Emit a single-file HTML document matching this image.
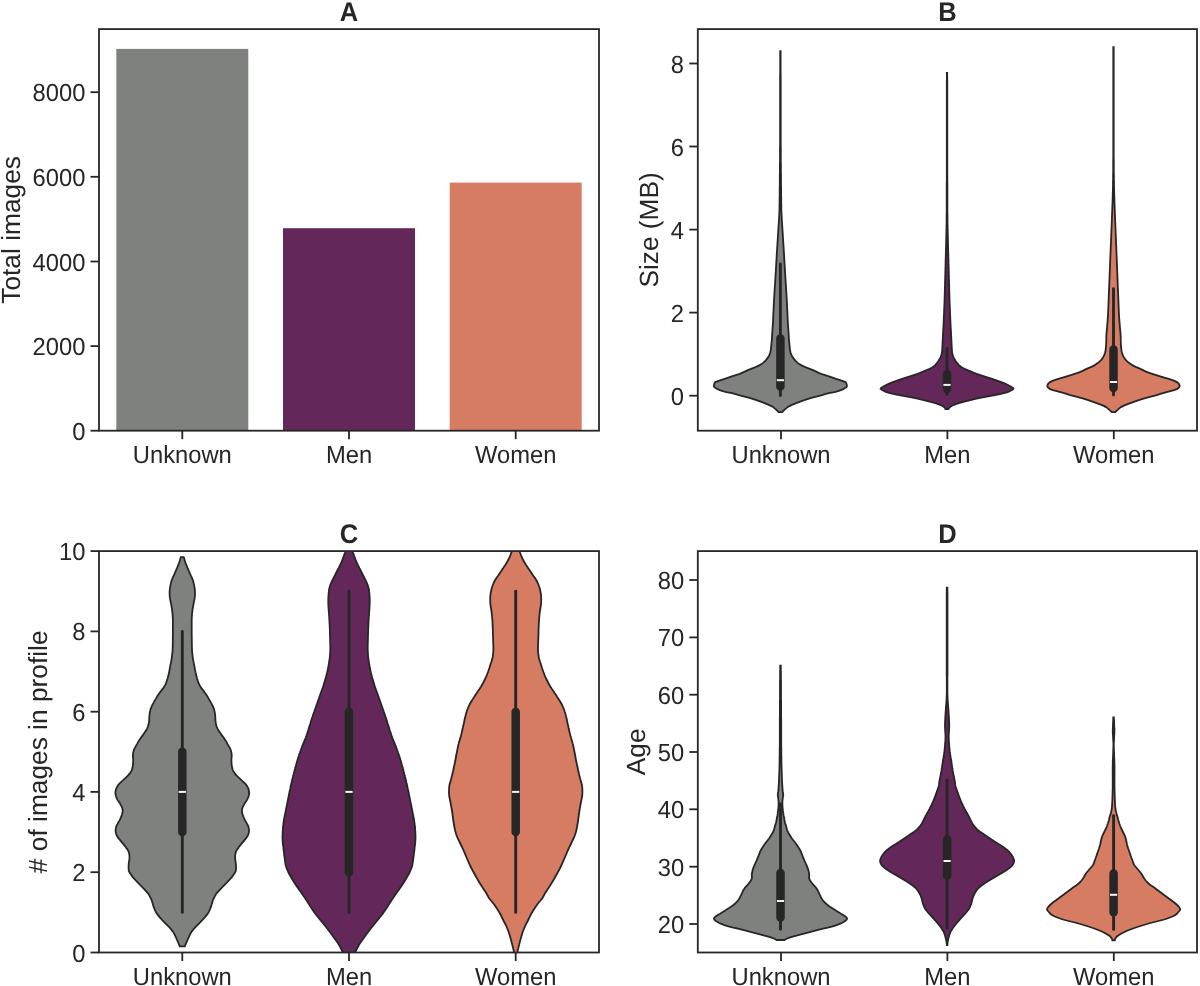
<!DOCTYPE html><html><head><meta charset="utf-8"><style>
html,body{margin:0;padding:0;background:#fff;}svg{display:block;will-change:transform;}
text{font-family:"Liberation Sans",sans-serif;fill:#262626;stroke:none;text-rendering:geometricPrecision;}
.tl{font-size:24px;}.al{font-size:26.3px;}.tt{font-size:26px;font-weight:bold;}
</style></head><body>
<svg width="1200" height="986" viewBox="0 0 1200 986">
<rect width="1200" height="986" fill="#ffffff"/>
<defs>
<clipPath id="ca"><rect x="99" y="29.1" width="500" height="401.6"/></clipPath>
<clipPath id="cb"><rect x="697.8" y="29.1" width="499.2" height="401.6"/></clipPath>
<clipPath id="cc"><rect x="99" y="551.1" width="500" height="401.4"/></clipPath>
<clipPath id="cd"><rect x="697.8" y="551.1" width="499.2" height="401.4"/></clipPath>
</defs>
<g clip-path="url(#ca)">
<rect x="116.3" y="48.9" width="132" height="381.8" fill="#7f817f"/>
<rect x="283" y="228.2" width="132" height="202.5" fill="#632859"/>
<rect x="449.7" y="182.6" width="132" height="248.1" fill="#d67c63"/>
</g>
<g clip-path="url(#cb)">
<path d="M780.2 51.1 L780.2 52.1 L780.2 53.1 L780.2 54.1 L780.2 55.1 L780.2 56.1 L780.2 57.1 L780.2 58.1 L780.2 59.1 L780.2 60.1 L780.2 61.1 L780.2 62.1 L780.2 63.1 L780.2 64.1 L780.2 65.1 L780.2 66.1 L780.2 67.1 L780.2 68.1 L780.2 69.1 L780.2 70.1 L780.2 71.1 L780.2 72.1 L780.2 73.1 L780.1 74.1 L780.1 75.1 L780.1 76.1 L780.1 77.1 L780.1 78.1 L780.1 79.1 L780.1 80.1 L780.1 81.1 L780.1 82.1 L780.1 83.1 L780.1 84.1 L780.1 85.1 L780.1 86.1 L780.1 87.1 L780.1 88.1 L780.1 89.1 L780.1 90.1 L780.1 91.1 L780.1 92.1 L780.1 93.1 L780.1 94.1 L780.1 95.1 L780.1 96.1 L780.1 97.1 L780.1 98.1 L780.1 99.1 L780.1 100.1 L780.1 101.1 L780.1 102.1 L780.1 103.1 L780.1 104.1 L780.1 105.1 L780.1 106.1 L780.1 107.1 L780.1 108.1 L780.1 109.1 L780.1 110.1 L780.1 111.1 L780.1 112.1 L780.1 113.1 L780.1 114.1 L780.1 115.1 L780.1 116.1 L780.1 117.1 L780.1 118.1 L780.1 119.1 L780.1 120.1 L780.1 121.1 L780.1 122.1 L780.1 123.1 L780.1 124.1 L780.1 125.1 L780.1 126.1 L780.1 127.1 L780.1 128.1 L780.1 129.1 L780.1 130.1 L780.1 131.1 L780.1 132.1 L780.1 133.1 L780.1 134.1 L780.1 135.1 L780.1 136.1 L780.1 137.1 L780.1 138.1 L780.1 139.1 L780.1 140.1 L780.1 141.1 L780.1 142.1 L780.1 143.1 L780.1 144.1 L780.1 145.1 L780 146.1 L780 147.1 L780 148.1 L780 149.1 L780 150.1 L780 151.1 L780 152.1 L780 153.1 L780 154.1 L780 155.1 L780 156.1 L780 157.1 L780 158.1 L780 159.1 L780 160.1 L780 161.1 L780 162.1 L779.9 163.1 L779.9 164.1 L779.9 165.1 L779.9 166.1 L779.9 167.1 L779.9 168.1 L779.9 169.1 L779.9 170.1 L779.9 171.1 L779.9 172.1 L779.9 173.1 L779.8 174.1 L779.8 175.1 L779.8 176.1 L779.8 177.1 L779.8 178.1 L779.8 179.1 L779.8 180.1 L779.8 181.1 L779.8 182.1 L779.8 183.1 L779.8 184.1 L779.8 185.1 L779.8 186.1 L779.7 187.1 L779.7 188.1 L779.7 189.1 L779.7 190.1 L779.7 191.1 L779.7 192.1 L779.7 193.1 L779.7 194.1 L779.7 195.1 L779.7 196.1 L779.6 197.1 L779.6 198.1 L779.6 199.1 L779.6 200.1 L779.6 201.1 L779.6 202.1 L779.6 203.1 L779.5 204.1 L779.5 205.1 L779.5 206.1 L779.5 207.1 L779.5 208.1 L779.5 209.1 L779.4 210.1 L779.4 211.1 L779.4 212.1 L779.3 213.1 L779.3 214.1 L779.2 215.1 L779.2 216.1 L779.1 217.1 L779.1 218.1 L779 219.1 L779 220.1 L778.9 221.1 L778.8 222.1 L778.8 223.1 L778.7 224.1 L778.6 225.1 L778.6 226.1 L778.5 227.1 L778.4 228.1 L778.4 229.1 L778.3 230.1 L778.2 231.1 L778.2 232.1 L778.1 233.1 L778 234.1 L778 235.1 L777.9 236.1 L777.9 237.1 L777.8 238.1 L777.7 239.1 L777.7 240.1 L777.6 241.1 L777.5 242.1 L777.5 243.1 L777.4 244.1 L777.4 245.1 L777.3 246.1 L777.2 247.1 L777.2 248.1 L777.1 249.1 L777 250.1 L777 251.1 L776.9 252.1 L776.8 253.1 L776.8 254.1 L776.7 255.1 L776.7 256.1 L776.6 257.1 L776.6 258.1 L776.5 259.1 L776.4 260.1 L776.4 261.1 L776.3 262.1 L776.3 263.1 L776.2 264.1 L776.2 265.1 L776.1 266.1 L776 267.1 L776 268.1 L775.9 269.1 L775.9 270.1 L775.8 271.1 L775.8 272.1 L775.7 273.1 L775.6 274.1 L775.6 275.1 L775.5 276.1 L775.5 277.1 L775.4 278.1 L775.3 279.1 L775.3 280.1 L775.2 281.1 L775.1 282.1 L775.1 283.1 L775 284.1 L774.9 285.1 L774.9 286.1 L774.8 287.1 L774.7 288.1 L774.7 289.1 L774.6 290.1 L774.6 291.1 L774.5 292.1 L774.4 293.1 L774.4 294.1 L774.3 295.1 L774.3 296.1 L774.2 297.1 L774.1 298.1 L774.1 299.1 L774 300.1 L774 301.1 L773.9 302.1 L773.9 303.1 L773.8 304.1 L773.8 305.1 L773.7 306.1 L773.7 307.1 L773.6 308.1 L773.6 309.1 L773.5 310.1 L773.5 311.1 L773.4 312.1 L773.4 313.1 L773.3 314.1 L773.3 315.1 L773.3 316.1 L773.2 317.1 L773.2 318.1 L773.1 319.1 L773.1 320.1 L773 321.1 L773 322.1 L772.9 323.1 L772.9 324.1 L772.8 325.1 L772.7 326.1 L772.7 327.1 L772.6 328.1 L772.5 329.1 L772.5 330.1 L772.4 331.1 L772.3 332.1 L772.2 333.1 L772.2 334.1 L772.1 335.1 L772 336.1 L772 337.1 L772 338.1 L771.9 339.1 L771.8 340.1 L771.7 341.1 L771.6 342.1 L771.5 343.1 L771.4 344.1 L771.3 345.1 L771.2 346.1 L771.1 347.1 L771 348.1 L770.9 349.1 L770.8 350.1 L770.6 351.1 L770.4 352.1 L770.1 353.1 L769.7 354.1 L769.3 355.1 L768.9 356.1 L768.2 357.1 L767.5 358.1 L766.7 359.1 L765.9 360.1 L765 361.1 L763.9 362.1 L762.8 363.1 L761.5 364.1 L759.7 365.1 L757.7 366.1 L755.5 367.1 L753 368.1 L750.4 369.1 L747.9 370.1 L745.7 371.1 L743.6 372.1 L741.5 373.1 L738.9 374.1 L735.7 375.1 L732.6 376.1 L729.7 377.1 L726.9 378.1 L723.9 379.1 L720.8 380.1 L717.9 381.1 L715.3 382.1 L714.5 383.1 L714.2 384.1 L714 385.1 L713.8 386.1 L714.4 387.1 L715.7 388.1 L717.6 389.1 L719.8 390.1 L722.8 391.1 L726.4 392.1 L732 393.1 L735.7 394.1 L738.8 395.1 L742.6 396.1 L746.6 397.1 L750.2 398.1 L753.4 399.1 L756.5 400.1 L759.3 401.1 L762 402.1 L764.6 403.1 L767 404.1 L769.4 405.1 L771.4 406.1 L773 407.1 L774.4 408.1 L775.6 409.1 L776.7 410.1 L777.7 411.1 L778.6 412.1 L782.2 412.1 L783.1 411.1 L784.1 410.1 L785.2 409.1 L786.4 408.1 L787.8 407.1 L789.4 406.1 L791.4 405.1 L793.8 404.1 L796.2 403.1 L798.8 402.1 L801.5 401.1 L804.3 400.1 L807.4 399.1 L810.6 398.1 L814.2 397.1 L818.2 396.1 L822 395.1 L825.1 394.1 L828.8 393.1 L834.4 392.1 L838 391.1 L841 390.1 L843.2 389.1 L845.1 388.1 L846.4 387.1 L847 386.1 L846.8 385.1 L846.6 384.1 L846.3 383.1 L845.5 382.1 L842.9 381.1 L840 380.1 L836.9 379.1 L833.9 378.1 L831.1 377.1 L828.2 376.1 L825.1 375.1 L821.9 374.1 L819.3 373.1 L817.2 372.1 L815.1 371.1 L812.9 370.1 L810.4 369.1 L807.8 368.1 L805.3 367.1 L803.1 366.1 L801.1 365.1 L799.3 364.1 L798 363.1 L796.9 362.1 L795.8 361.1 L794.9 360.1 L794.1 359.1 L793.3 358.1 L792.6 357.1 L791.9 356.1 L791.5 355.1 L791.1 354.1 L790.7 353.1 L790.4 352.1 L790.2 351.1 L790 350.1 L789.9 349.1 L789.8 348.1 L789.7 347.1 L789.6 346.1 L789.5 345.1 L789.4 344.1 L789.3 343.1 L789.2 342.1 L789.1 341.1 L789 340.1 L788.9 339.1 L788.8 338.1 L788.8 337.1 L788.8 336.1 L788.7 335.1 L788.6 334.1 L788.6 333.1 L788.5 332.1 L788.4 331.1 L788.3 330.1 L788.3 329.1 L788.2 328.1 L788.1 327.1 L788.1 326.1 L788 325.1 L787.9 324.1 L787.9 323.1 L787.8 322.1 L787.8 321.1 L787.7 320.1 L787.7 319.1 L787.6 318.1 L787.6 317.1 L787.5 316.1 L787.5 315.1 L787.5 314.1 L787.4 313.1 L787.4 312.1 L787.3 311.1 L787.3 310.1 L787.2 309.1 L787.2 308.1 L787.1 307.1 L787.1 306.1 L787 305.1 L787 304.1 L786.9 303.1 L786.9 302.1 L786.8 301.1 L786.8 300.1 L786.7 299.1 L786.7 298.1 L786.6 297.1 L786.5 296.1 L786.5 295.1 L786.4 294.1 L786.4 293.1 L786.3 292.1 L786.2 291.1 L786.2 290.1 L786.1 289.1 L786.1 288.1 L786 287.1 L785.9 286.1 L785.9 285.1 L785.8 284.1 L785.7 283.1 L785.7 282.1 L785.6 281.1 L785.5 280.1 L785.5 279.1 L785.4 278.1 L785.3 277.1 L785.3 276.1 L785.2 275.1 L785.2 274.1 L785.1 273.1 L785 272.1 L785 271.1 L784.9 270.1 L784.9 269.1 L784.8 268.1 L784.8 267.1 L784.7 266.1 L784.6 265.1 L784.6 264.1 L784.5 263.1 L784.5 262.1 L784.4 261.1 L784.4 260.1 L784.3 259.1 L784.2 258.1 L784.2 257.1 L784.1 256.1 L784.1 255.1 L784 254.1 L784 253.1 L783.9 252.1 L783.8 251.1 L783.8 250.1 L783.7 249.1 L783.6 248.1 L783.6 247.1 L783.5 246.1 L783.4 245.1 L783.4 244.1 L783.3 243.1 L783.3 242.1 L783.2 241.1 L783.1 240.1 L783.1 239.1 L783 238.1 L782.9 237.1 L782.9 236.1 L782.8 235.1 L782.8 234.1 L782.7 233.1 L782.6 232.1 L782.6 231.1 L782.5 230.1 L782.4 229.1 L782.4 228.1 L782.3 227.1 L782.2 226.1 L782.2 225.1 L782.1 224.1 L782 223.1 L782 222.1 L781.9 221.1 L781.8 220.1 L781.8 219.1 L781.7 218.1 L781.7 217.1 L781.6 216.1 L781.6 215.1 L781.5 214.1 L781.5 213.1 L781.4 212.1 L781.4 211.1 L781.4 210.1 L781.3 209.1 L781.3 208.1 L781.3 207.1 L781.3 206.1 L781.3 205.1 L781.3 204.1 L781.2 203.1 L781.2 202.1 L781.2 201.1 L781.2 200.1 L781.2 199.1 L781.2 198.1 L781.2 197.1 L781.1 196.1 L781.1 195.1 L781.1 194.1 L781.1 193.1 L781.1 192.1 L781.1 191.1 L781.1 190.1 L781.1 189.1 L781.1 188.1 L781.1 187.1 L781 186.1 L781 185.1 L781 184.1 L781 183.1 L781 182.1 L781 181.1 L781 180.1 L781 179.1 L781 178.1 L781 177.1 L781 176.1 L781 175.1 L781 174.1 L780.9 173.1 L780.9 172.1 L780.9 171.1 L780.9 170.1 L780.9 169.1 L780.9 168.1 L780.9 167.1 L780.9 166.1 L780.9 165.1 L780.9 164.1 L780.9 163.1 L780.8 162.1 L780.8 161.1 L780.8 160.1 L780.8 159.1 L780.8 158.1 L780.8 157.1 L780.8 156.1 L780.8 155.1 L780.8 154.1 L780.8 153.1 L780.8 152.1 L780.8 151.1 L780.8 150.1 L780.8 149.1 L780.8 148.1 L780.8 147.1 L780.8 146.1 L780.7 145.1 L780.7 144.1 L780.7 143.1 L780.7 142.1 L780.7 141.1 L780.7 140.1 L780.7 139.1 L780.7 138.1 L780.7 137.1 L780.7 136.1 L780.7 135.1 L780.7 134.1 L780.7 133.1 L780.7 132.1 L780.7 131.1 L780.7 130.1 L780.7 129.1 L780.7 128.1 L780.7 127.1 L780.7 126.1 L780.7 125.1 L780.7 124.1 L780.7 123.1 L780.7 122.1 L780.7 121.1 L780.7 120.1 L780.7 119.1 L780.7 118.1 L780.7 117.1 L780.7 116.1 L780.7 115.1 L780.7 114.1 L780.7 113.1 L780.7 112.1 L780.7 111.1 L780.7 110.1 L780.7 109.1 L780.7 108.1 L780.7 107.1 L780.7 106.1 L780.7 105.1 L780.7 104.1 L780.7 103.1 L780.7 102.1 L780.7 101.1 L780.7 100.1 L780.7 99.1 L780.7 98.1 L780.7 97.1 L780.7 96.1 L780.7 95.1 L780.7 94.1 L780.7 93.1 L780.7 92.1 L780.7 91.1 L780.7 90.1 L780.7 89.1 L780.7 88.1 L780.7 87.1 L780.7 86.1 L780.7 85.1 L780.7 84.1 L780.7 83.1 L780.7 82.1 L780.7 81.1 L780.7 80.1 L780.7 79.1 L780.7 78.1 L780.7 77.1 L780.7 76.1 L780.7 75.1 L780.7 74.1 L780.6 73.1 L780.6 72.1 L780.6 71.1 L780.6 70.1 L780.6 69.1 L780.6 68.1 L780.6 67.1 L780.6 66.1 L780.6 65.1 L780.6 64.1 L780.6 63.1 L780.6 62.1 L780.6 61.1 L780.6 60.1 L780.6 59.1 L780.6 58.1 L780.6 57.1 L780.6 56.1 L780.6 55.1 L780.6 54.1 L780.6 53.1 L780.6 52.1 L780.6 51.1 Z" fill="#7f817f" stroke="#262626" stroke-width="1.8" stroke-linejoin="miter" stroke-miterlimit="4"/>
<path d="M946.8 72.8 L946.9 73.8 L946.9 74.8 L946.9 75.8 L946.9 76.8 L946.9 77.8 L946.9 78.8 L946.9 79.8 L946.8 80.8 L946.8 81.8 L946.8 82.8 L946.8 83.8 L946.8 84.8 L946.8 85.8 L946.8 86.8 L946.8 87.8 L946.8 88.8 L946.8 89.8 L946.8 90.8 L946.8 91.8 L946.8 92.8 L946.8 93.8 L946.8 94.8 L946.8 95.8 L946.8 96.8 L946.8 97.8 L946.8 98.8 L946.8 99.8 L946.8 100.8 L946.8 101.8 L946.8 102.8 L946.8 103.8 L946.8 104.8 L946.8 105.8 L946.8 106.8 L946.8 107.8 L946.8 108.8 L946.8 109.8 L946.8 110.8 L946.8 111.8 L946.8 112.8 L946.8 113.8 L946.8 114.8 L946.8 115.8 L946.8 116.8 L946.8 117.8 L946.8 118.8 L946.8 119.8 L946.8 120.8 L946.8 121.8 L946.8 122.8 L946.8 123.8 L946.8 124.8 L946.8 125.8 L946.8 126.8 L946.8 127.8 L946.8 128.8 L946.8 129.8 L946.8 130.8 L946.8 131.8 L946.8 132.8 L946.8 133.8 L946.8 134.8 L946.8 135.8 L946.8 136.8 L946.8 137.8 L946.8 138.8 L946.8 139.8 L946.8 140.8 L946.8 141.8 L946.8 142.8 L946.8 143.8 L946.8 144.8 L946.8 145.8 L946.8 146.8 L946.8 147.8 L946.8 148.8 L946.8 149.8 L946.8 150.8 L946.8 151.8 L946.8 152.8 L946.8 153.8 L946.8 154.8 L946.8 155.8 L946.8 156.8 L946.8 157.8 L946.8 158.8 L946.8 159.8 L946.8 160.8 L946.8 161.8 L946.8 162.8 L946.8 163.8 L946.8 164.8 L946.8 165.8 L946.8 166.8 L946.8 167.8 L946.8 168.8 L946.8 169.8 L946.8 170.8 L946.8 171.8 L946.8 172.8 L946.8 173.8 L946.8 174.8 L946.8 175.8 L946.8 176.8 L946.8 177.8 L946.8 178.8 L946.8 179.8 L946.8 180.8 L946.8 181.8 L946.7 182.8 L946.7 183.8 L946.7 184.8 L946.7 185.8 L946.7 186.8 L946.7 187.8 L946.7 188.8 L946.7 189.8 L946.7 190.8 L946.7 191.8 L946.7 192.8 L946.7 193.8 L946.7 194.8 L946.7 195.8 L946.7 196.8 L946.7 197.8 L946.7 198.8 L946.7 199.8 L946.7 200.8 L946.7 201.8 L946.7 202.8 L946.7 203.8 L946.7 204.8 L946.7 205.8 L946.7 206.8 L946.7 207.8 L946.7 208.8 L946.7 209.8 L946.7 210.8 L946.7 211.8 L946.7 212.8 L946.7 213.8 L946.6 214.8 L946.6 215.8 L946.6 216.8 L946.6 217.8 L946.6 218.8 L946.6 219.8 L946.6 220.8 L946.6 221.8 L946.6 222.8 L946.6 223.8 L946.5 224.8 L946.5 225.8 L946.5 226.8 L946.5 227.8 L946.5 228.8 L946.4 229.8 L946.4 230.8 L946.4 231.8 L946.4 232.8 L946.3 233.8 L946.3 234.8 L946.3 235.8 L946.3 236.8 L946.2 237.8 L946.2 238.8 L946.2 239.8 L946.2 240.8 L946.2 241.8 L946.1 242.8 L946.1 243.8 L946.1 244.8 L946.1 245.8 L946 246.8 L946 247.8 L946 248.8 L946 249.8 L945.9 250.8 L945.9 251.8 L945.9 252.8 L945.8 253.8 L945.8 254.8 L945.8 255.8 L945.8 256.8 L945.7 257.8 L945.7 258.8 L945.7 259.8 L945.6 260.8 L945.6 261.8 L945.6 262.8 L945.6 263.8 L945.5 264.8 L945.5 265.8 L945.5 266.8 L945.4 267.8 L945.4 268.8 L945.4 269.8 L945.4 270.8 L945.3 271.8 L945.3 272.8 L945.3 273.8 L945.3 274.8 L945.2 275.8 L945.2 276.8 L945.2 277.8 L945.2 278.8 L945.1 279.8 L945.1 280.8 L945.1 281.8 L945 282.8 L945 283.8 L945 284.8 L945 285.8 L944.9 286.8 L944.9 287.8 L944.9 288.8 L944.9 289.8 L944.8 290.8 L944.8 291.8 L944.8 292.8 L944.7 293.8 L944.7 294.8 L944.7 295.8 L944.7 296.8 L944.6 297.8 L944.6 298.8 L944.6 299.8 L944.5 300.8 L944.5 301.8 L944.5 302.8 L944.4 303.8 L944.4 304.8 L944.3 305.8 L944.3 306.8 L944.3 307.8 L944.2 308.8 L944.2 309.8 L944.1 310.8 L944.1 311.8 L944.1 312.8 L944 313.8 L944 314.8 L943.9 315.8 L943.9 316.8 L943.8 317.8 L943.8 318.8 L943.8 319.8 L943.7 320.8 L943.7 321.8 L943.6 322.8 L943.6 323.8 L943.5 324.8 L943.5 325.8 L943.4 326.8 L943.4 327.8 L943.3 328.8 L943.2 329.8 L943.2 330.8 L943.1 331.8 L943.1 332.8 L943 333.8 L943 334.8 L942.9 335.8 L942.9 336.8 L942.8 337.8 L942.8 338.8 L942.7 339.8 L942.7 340.8 L942.6 341.8 L942.6 342.8 L942.5 343.8 L942.5 344.8 L942.4 345.8 L942.4 346.8 L942.3 347.8 L942.3 348.8 L942.2 349.8 L942.2 350.8 L942.1 351.8 L941.9 352.8 L941.7 353.8 L941.4 354.8 L941.1 355.8 L940.7 356.8 L940.3 357.8 L939.8 358.8 L939.2 359.8 L938.6 360.8 L937.9 361.8 L937.1 362.8 L936.2 363.8 L935.4 364.8 L934.5 365.8 L933.2 366.8 L931.6 367.8 L929.6 368.8 L927.2 369.8 L924.9 370.8 L922.5 371.8 L920.1 372.8 L917.5 373.8 L914.5 374.8 L911.5 375.8 L908.4 376.8 L905.2 377.8 L902.1 378.8 L899.2 379.8 L896.4 380.8 L893.6 381.8 L891 382.8 L888.7 383.8 L886.6 384.8 L884.8 385.8 L883 386.8 L881.1 387.8 L880.6 388.8 L881.8 389.8 L883.5 390.8 L885.9 391.8 L889.2 392.8 L893.1 393.8 L898 394.8 L903.4 395.8 L908.8 396.8 L914.1 397.8 L918.7 398.8 L922.8 399.8 L926.7 400.8 L930.8 401.8 L934.4 402.8 L937.5 403.8 L940.1 404.8 L942.1 405.8 L943.7 406.8 L944.8 407.8 L945.5 408.8 L945.5 409 L948.5 409 L948.6 408.8 L949.2 407.8 L950.4 406.8 L952 405.8 L954 404.8 L956.6 403.8 L959.7 402.8 L963.3 401.8 L967.4 400.8 L971.3 399.8 L975.4 398.8 L980 397.8 L985.3 396.8 L990.7 395.8 L996.1 394.8 L1001 393.8 L1004.9 392.8 L1008.2 391.8 L1010.6 390.8 L1012.3 389.8 L1013.5 388.8 L1013 387.8 L1011.1 386.8 L1009.3 385.8 L1007.5 384.8 L1005.4 383.8 L1003.1 382.8 L1000.5 381.8 L997.7 380.8 L994.9 379.8 L992 378.8 L988.9 377.8 L985.7 376.8 L982.6 375.8 L979.6 374.8 L976.6 373.8 L974 372.8 L971.6 371.8 L969.2 370.8 L966.9 369.8 L964.5 368.8 L962.5 367.8 L960.9 366.8 L959.6 365.8 L958.7 364.8 L957.9 363.8 L957 362.8 L956.2 361.8 L955.5 360.8 L954.9 359.8 L954.3 358.8 L953.8 357.8 L953.4 356.8 L953 355.8 L952.7 354.8 L952.4 353.8 L952.2 352.8 L952 351.8 L951.9 350.8 L951.9 349.8 L951.8 348.8 L951.8 347.8 L951.7 346.8 L951.7 345.8 L951.6 344.8 L951.6 343.8 L951.5 342.8 L951.5 341.8 L951.4 340.8 L951.4 339.8 L951.3 338.8 L951.3 337.8 L951.2 336.8 L951.2 335.8 L951.1 334.8 L951.1 333.8 L951 332.8 L951 331.8 L950.9 330.8 L950.9 329.8 L950.8 328.8 L950.7 327.8 L950.7 326.8 L950.6 325.8 L950.6 324.8 L950.5 323.8 L950.5 322.8 L950.4 321.8 L950.4 320.8 L950.3 319.8 L950.3 318.8 L950.3 317.8 L950.2 316.8 L950.2 315.8 L950.1 314.8 L950.1 313.8 L950 312.8 L950 311.8 L950 310.8 L949.9 309.8 L949.9 308.8 L949.8 307.8 L949.8 306.8 L949.8 305.8 L949.7 304.8 L949.7 303.8 L949.6 302.8 L949.6 301.8 L949.6 300.8 L949.5 299.8 L949.5 298.8 L949.5 297.8 L949.4 296.8 L949.4 295.8 L949.4 294.8 L949.4 293.8 L949.3 292.8 L949.3 291.8 L949.3 290.8 L949.2 289.8 L949.2 288.8 L949.2 287.8 L949.2 286.8 L949.1 285.8 L949.1 284.8 L949.1 283.8 L949.1 282.8 L949 281.8 L949 280.8 L949 279.8 L948.9 278.8 L948.9 277.8 L948.9 276.8 L948.9 275.8 L948.8 274.8 L948.8 273.8 L948.8 272.8 L948.8 271.8 L948.7 270.8 L948.7 269.8 L948.7 268.8 L948.7 267.8 L948.6 266.8 L948.6 265.8 L948.6 264.8 L948.5 263.8 L948.5 262.8 L948.5 261.8 L948.5 260.8 L948.4 259.8 L948.4 258.8 L948.4 257.8 L948.3 256.8 L948.3 255.8 L948.3 254.8 L948.3 253.8 L948.2 252.8 L948.2 251.8 L948.2 250.8 L948.1 249.8 L948.1 248.8 L948.1 247.8 L948.1 246.8 L948 245.8 L948 244.8 L948 243.8 L948 242.8 L947.9 241.8 L947.9 240.8 L947.9 239.8 L947.9 238.8 L947.9 237.8 L947.8 236.8 L947.8 235.8 L947.8 234.8 L947.8 233.8 L947.7 232.8 L947.7 231.8 L947.7 230.8 L947.7 229.8 L947.6 228.8 L947.6 227.8 L947.6 226.8 L947.6 225.8 L947.6 224.8 L947.5 223.8 L947.5 222.8 L947.5 221.8 L947.5 220.8 L947.5 219.8 L947.5 218.8 L947.5 217.8 L947.5 216.8 L947.5 215.8 L947.5 214.8 L947.4 213.8 L947.4 212.8 L947.4 211.8 L947.4 210.8 L947.4 209.8 L947.4 208.8 L947.4 207.8 L947.4 206.8 L947.4 205.8 L947.4 204.8 L947.4 203.8 L947.4 202.8 L947.4 201.8 L947.4 200.8 L947.4 199.8 L947.4 198.8 L947.4 197.8 L947.4 196.8 L947.4 195.8 L947.4 194.8 L947.4 193.8 L947.4 192.8 L947.4 191.8 L947.4 190.8 L947.4 189.8 L947.4 188.8 L947.4 187.8 L947.4 186.8 L947.4 185.8 L947.4 184.8 L947.4 183.8 L947.4 182.8 L947.3 181.8 L947.3 180.8 L947.3 179.8 L947.3 178.8 L947.3 177.8 L947.3 176.8 L947.3 175.8 L947.3 174.8 L947.3 173.8 L947.3 172.8 L947.3 171.8 L947.3 170.8 L947.3 169.8 L947.3 168.8 L947.3 167.8 L947.3 166.8 L947.3 165.8 L947.3 164.8 L947.3 163.8 L947.3 162.8 L947.3 161.8 L947.3 160.8 L947.3 159.8 L947.3 158.8 L947.3 157.8 L947.3 156.8 L947.3 155.8 L947.3 154.8 L947.3 153.8 L947.3 152.8 L947.3 151.8 L947.3 150.8 L947.3 149.8 L947.3 148.8 L947.3 147.8 L947.3 146.8 L947.3 145.8 L947.3 144.8 L947.3 143.8 L947.3 142.8 L947.3 141.8 L947.3 140.8 L947.3 139.8 L947.3 138.8 L947.3 137.8 L947.3 136.8 L947.3 135.8 L947.3 134.8 L947.3 133.8 L947.3 132.8 L947.3 131.8 L947.3 130.8 L947.3 129.8 L947.3 128.8 L947.3 127.8 L947.3 126.8 L947.3 125.8 L947.3 124.8 L947.3 123.8 L947.3 122.8 L947.3 121.8 L947.3 120.8 L947.3 119.8 L947.3 118.8 L947.3 117.8 L947.3 116.8 L947.3 115.8 L947.3 114.8 L947.3 113.8 L947.3 112.8 L947.3 111.8 L947.3 110.8 L947.3 109.8 L947.3 108.8 L947.3 107.8 L947.3 106.8 L947.3 105.8 L947.3 104.8 L947.3 103.8 L947.3 102.8 L947.3 101.8 L947.3 100.8 L947.3 99.8 L947.3 98.8 L947.3 97.8 L947.3 96.8 L947.3 95.8 L947.3 94.8 L947.3 93.8 L947.3 92.8 L947.3 91.8 L947.3 90.8 L947.3 89.8 L947.3 88.8 L947.3 87.8 L947.3 86.8 L947.3 85.8 L947.3 84.8 L947.3 83.8 L947.3 82.8 L947.3 81.8 L947.3 80.8 L947.2 79.8 L947.2 78.8 L947.2 77.8 L947.2 76.8 L947.2 75.8 L947.2 74.8 L947.2 73.8 L947.2 72.8 Z" fill="#632859" stroke="#262626" stroke-width="1.8" stroke-linejoin="miter" stroke-miterlimit="4"/>
<path d="M1113.3 47.1 L1113.3 48.1 L1113.3 49.1 L1113.3 50.1 L1113.3 51.1 L1113.3 52.1 L1113.3 53.1 L1113.3 54.1 L1113.3 55.1 L1113.3 56.1 L1113.3 57.1 L1113.3 58.1 L1113.3 59.1 L1113.3 60.1 L1113.3 61.1 L1113.3 62.1 L1113.3 63.1 L1113.3 64.1 L1113.3 65.1 L1113.3 66.1 L1113.3 67.1 L1113.3 68.1 L1113.3 69.1 L1113.3 70.1 L1113.3 71.1 L1113.3 72.1 L1113.3 73.1 L1113.3 74.1 L1113.3 75.1 L1113.3 76.1 L1113.3 77.1 L1113.3 78.1 L1113.3 79.1 L1113.3 80.1 L1113.3 81.1 L1113.3 82.1 L1113.3 83.1 L1113.3 84.1 L1113.3 85.1 L1113.3 86.1 L1113.3 87.1 L1113.3 88.1 L1113.3 89.1 L1113.3 90.1 L1113.3 91.1 L1113.3 92.1 L1113.3 93.1 L1113.3 94.1 L1113.3 95.1 L1113.3 96.1 L1113.3 97.1 L1113.3 98.1 L1113.3 99.1 L1113.3 100.1 L1113.3 101.1 L1113.3 102.1 L1113.3 103.1 L1113.3 104.1 L1113.3 105.1 L1113.3 106.1 L1113.3 107.1 L1113.3 108.1 L1113.3 109.1 L1113.3 110.1 L1113.3 111.1 L1113.3 112.1 L1113.3 113.1 L1113.3 114.1 L1113.3 115.1 L1113.3 116.1 L1113.3 117.1 L1113.3 118.1 L1113.3 119.1 L1113.3 120.1 L1113.3 121.1 L1113.3 122.1 L1113.3 123.1 L1113.3 124.1 L1113.3 125.1 L1113.3 126.1 L1113.3 127.1 L1113.3 128.1 L1113.3 129.1 L1113.3 130.1 L1113.3 131.1 L1113.3 132.1 L1113.3 133.1 L1113.3 134.1 L1113.3 135.1 L1113.3 136.1 L1113.3 137.1 L1113.3 138.1 L1113.3 139.1 L1113.3 140.1 L1113.3 141.1 L1113.3 142.1 L1113.3 143.1 L1113.3 144.1 L1113.3 145.1 L1113.3 146.1 L1113.3 147.1 L1113.3 148.1 L1113.3 149.1 L1113.3 150.1 L1113.3 151.1 L1113.3 152.1 L1113.3 153.1 L1113.3 154.1 L1113.3 155.1 L1113.3 156.1 L1113.3 157.1 L1113.3 158.1 L1113.3 159.1 L1113.2 160.1 L1113.2 161.1 L1113.2 162.1 L1113.2 163.1 L1113.2 164.1 L1113.2 165.1 L1113.2 166.1 L1113.2 167.1 L1113.2 168.1 L1113.2 169.1 L1113.2 170.1 L1113.2 171.1 L1113.2 172.1 L1113.2 173.1 L1113.1 174.1 L1113.1 175.1 L1113.1 176.1 L1113.1 177.1 L1113.1 178.1 L1113.1 179.1 L1113.1 180.1 L1113 181.1 L1113 182.1 L1113 183.1 L1113 184.1 L1113 185.1 L1113 186.1 L1113 187.1 L1112.9 188.1 L1112.9 189.1 L1112.9 190.1 L1112.9 191.1 L1112.8 192.1 L1112.8 193.1 L1112.8 194.1 L1112.8 195.1 L1112.7 196.1 L1112.7 197.1 L1112.7 198.1 L1112.6 199.1 L1112.6 200.1 L1112.6 201.1 L1112.5 202.1 L1112.5 203.1 L1112.5 204.1 L1112.4 205.1 L1112.4 206.1 L1112.3 207.1 L1112.3 208.1 L1112.3 209.1 L1112.2 210.1 L1112.2 211.1 L1112.2 212.1 L1112.1 213.1 L1112.1 214.1 L1112 215.1 L1112 216.1 L1112 217.1 L1111.9 218.1 L1111.9 219.1 L1111.9 220.1 L1111.8 221.1 L1111.8 222.1 L1111.7 223.1 L1111.7 224.1 L1111.7 225.1 L1111.6 226.1 L1111.6 227.1 L1111.5 228.1 L1111.5 229.1 L1111.4 230.1 L1111.4 231.1 L1111.4 232.1 L1111.3 233.1 L1111.3 234.1 L1111.2 235.1 L1111.2 236.1 L1111.2 237.1 L1111.1 238.1 L1111.1 239.1 L1111 240.1 L1111 241.1 L1111 242.1 L1110.9 243.1 L1110.9 244.1 L1110.8 245.1 L1110.8 246.1 L1110.7 247.1 L1110.7 248.1 L1110.7 249.1 L1110.6 250.1 L1110.6 251.1 L1110.5 252.1 L1110.5 253.1 L1110.5 254.1 L1110.4 255.1 L1110.4 256.1 L1110.3 257.1 L1110.3 258.1 L1110.3 259.1 L1110.2 260.1 L1110.2 261.1 L1110.1 262.1 L1110.1 263.1 L1110.1 264.1 L1110 265.1 L1110 266.1 L1109.9 267.1 L1109.9 268.1 L1109.9 269.1 L1109.8 270.1 L1109.8 271.1 L1109.8 272.1 L1109.7 273.1 L1109.7 274.1 L1109.6 275.1 L1109.6 276.1 L1109.6 277.1 L1109.5 278.1 L1109.5 279.1 L1109.4 280.1 L1109.4 281.1 L1109.4 282.1 L1109.3 283.1 L1109.3 284.1 L1109.2 285.1 L1109.2 286.1 L1109.2 287.1 L1109.1 288.1 L1109.1 289.1 L1109 290.1 L1109 291.1 L1108.9 292.1 L1108.9 293.1 L1108.9 294.1 L1108.8 295.1 L1108.8 296.1 L1108.7 297.1 L1108.7 298.1 L1108.7 299.1 L1108.6 300.1 L1108.6 301.1 L1108.5 302.1 L1108.5 303.1 L1108.5 304.1 L1108.4 305.1 L1108.4 306.1 L1108.4 307.1 L1108.3 308.1 L1108.3 309.1 L1108.2 310.1 L1108.2 311.1 L1108.1 312.1 L1108.1 313.1 L1108.1 314.1 L1108 315.1 L1107.9 316.1 L1107.9 317.1 L1107.8 318.1 L1107.7 319.1 L1107.7 320.1 L1107.6 321.1 L1107.5 322.1 L1107.4 323.1 L1107.3 324.1 L1107.2 325.1 L1107.2 326.1 L1107.1 327.1 L1107 328.1 L1106.9 329.1 L1106.8 330.1 L1106.7 331.1 L1106.6 332.1 L1106.5 333.1 L1106.5 334.1 L1106.4 335.1 L1106.3 336.1 L1106.3 337.1 L1106.3 338.1 L1106.3 339.1 L1106.3 340.1 L1106.3 341.1 L1106.2 342.1 L1106.2 343.1 L1106.2 344.1 L1106.1 345.1 L1106 346.1 L1105.9 347.1 L1105.8 348.1 L1105.7 349.1 L1105.6 350.1 L1105.5 351.1 L1105.2 352.1 L1104.9 353.1 L1104.5 354.1 L1104.2 355.1 L1103.7 356.1 L1103.2 357.1 L1102.6 358.1 L1101.9 359.1 L1101 360.1 L1100 361.1 L1098.9 362.1 L1097.7 363.1 L1096.3 364.1 L1094.7 365.1 L1092.9 366.1 L1090.7 367.1 L1088.3 368.1 L1086.1 369.1 L1084.1 370.1 L1082.1 371.1 L1079.7 372.1 L1077 373.1 L1074 374.1 L1070.8 375.1 L1067.6 376.1 L1064.3 377.1 L1060.9 378.1 L1057.5 379.1 L1054.5 380.1 L1052 381.1 L1050 382.1 L1048.8 383.1 L1048 384.1 L1047.5 385.1 L1047.3 386.1 L1047.7 387.1 L1048.6 388.1 L1050.1 389.1 L1053 390.1 L1056.7 391.1 L1060.4 392.1 L1064.1 393.1 L1067.3 394.1 L1070.3 395.1 L1074.1 396.1 L1078.1 397.1 L1081.8 398.1 L1085.1 399.1 L1088.2 400.1 L1091.1 401.1 L1093.9 402.1 L1096.6 403.1 L1099.4 404.1 L1102 405.1 L1104.3 406.1 L1106 407.1 L1107.4 408.1 L1108.6 409.1 L1109.7 410.1 L1110.8 411.1 L1111.7 412.1 L1115.3 412.1 L1116.2 411.1 L1117.3 410.1 L1118.4 409.1 L1119.6 408.1 L1121 407.1 L1122.7 406.1 L1125 405.1 L1127.6 404.1 L1130.4 403.1 L1133.1 402.1 L1135.9 401.1 L1138.8 400.1 L1141.9 399.1 L1145.2 398.1 L1148.9 397.1 L1152.9 396.1 L1156.7 395.1 L1159.7 394.1 L1162.9 393.1 L1166.6 392.1 L1170.3 391.1 L1174 390.1 L1176.9 389.1 L1178.4 388.1 L1179.3 387.1 L1179.7 386.1 L1179.5 385.1 L1179 384.1 L1178.2 383.1 L1177 382.1 L1175 381.1 L1172.5 380.1 L1169.5 379.1 L1166.1 378.1 L1162.7 377.1 L1159.4 376.1 L1156.2 375.1 L1153 374.1 L1150 373.1 L1147.3 372.1 L1144.9 371.1 L1142.9 370.1 L1140.9 369.1 L1138.7 368.1 L1136.3 367.1 L1134.1 366.1 L1132.3 365.1 L1130.7 364.1 L1129.3 363.1 L1128.1 362.1 L1127 361.1 L1126 360.1 L1125.1 359.1 L1124.4 358.1 L1123.8 357.1 L1123.3 356.1 L1122.8 355.1 L1122.5 354.1 L1122.1 353.1 L1121.8 352.1 L1121.5 351.1 L1121.4 350.1 L1121.3 349.1 L1121.2 348.1 L1121.1 347.1 L1121 346.1 L1120.9 345.1 L1120.8 344.1 L1120.8 343.1 L1120.8 342.1 L1120.7 341.1 L1120.7 340.1 L1120.7 339.1 L1120.7 338.1 L1120.7 337.1 L1120.7 336.1 L1120.6 335.1 L1120.5 334.1 L1120.5 333.1 L1120.4 332.1 L1120.3 331.1 L1120.2 330.1 L1120.1 329.1 L1120 328.1 L1119.9 327.1 L1119.8 326.1 L1119.8 325.1 L1119.7 324.1 L1119.6 323.1 L1119.5 322.1 L1119.4 321.1 L1119.3 320.1 L1119.3 319.1 L1119.2 318.1 L1119.1 317.1 L1119.1 316.1 L1119 315.1 L1118.9 314.1 L1118.9 313.1 L1118.9 312.1 L1118.8 311.1 L1118.8 310.1 L1118.7 309.1 L1118.7 308.1 L1118.6 307.1 L1118.6 306.1 L1118.6 305.1 L1118.5 304.1 L1118.5 303.1 L1118.5 302.1 L1118.4 301.1 L1118.4 300.1 L1118.3 299.1 L1118.3 298.1 L1118.3 297.1 L1118.2 296.1 L1118.2 295.1 L1118.1 294.1 L1118.1 293.1 L1118.1 292.1 L1118 291.1 L1118 290.1 L1117.9 289.1 L1117.9 288.1 L1117.8 287.1 L1117.8 286.1 L1117.8 285.1 L1117.7 284.1 L1117.7 283.1 L1117.6 282.1 L1117.6 281.1 L1117.6 280.1 L1117.5 279.1 L1117.5 278.1 L1117.4 277.1 L1117.4 276.1 L1117.4 275.1 L1117.3 274.1 L1117.3 273.1 L1117.2 272.1 L1117.2 271.1 L1117.2 270.1 L1117.1 269.1 L1117.1 268.1 L1117.1 267.1 L1117 266.1 L1117 265.1 L1116.9 264.1 L1116.9 263.1 L1116.9 262.1 L1116.8 261.1 L1116.8 260.1 L1116.7 259.1 L1116.7 258.1 L1116.7 257.1 L1116.6 256.1 L1116.6 255.1 L1116.5 254.1 L1116.5 253.1 L1116.5 252.1 L1116.4 251.1 L1116.4 250.1 L1116.3 249.1 L1116.3 248.1 L1116.3 247.1 L1116.2 246.1 L1116.2 245.1 L1116.1 244.1 L1116.1 243.1 L1116 242.1 L1116 241.1 L1116 240.1 L1115.9 239.1 L1115.9 238.1 L1115.8 237.1 L1115.8 236.1 L1115.8 235.1 L1115.7 234.1 L1115.7 233.1 L1115.6 232.1 L1115.6 231.1 L1115.6 230.1 L1115.5 229.1 L1115.5 228.1 L1115.4 227.1 L1115.4 226.1 L1115.3 225.1 L1115.3 224.1 L1115.3 223.1 L1115.2 222.1 L1115.2 221.1 L1115.1 220.1 L1115.1 219.1 L1115.1 218.1 L1115 217.1 L1115 216.1 L1115 215.1 L1114.9 214.1 L1114.9 213.1 L1114.8 212.1 L1114.8 211.1 L1114.8 210.1 L1114.7 209.1 L1114.7 208.1 L1114.7 207.1 L1114.6 206.1 L1114.6 205.1 L1114.5 204.1 L1114.5 203.1 L1114.5 202.1 L1114.4 201.1 L1114.4 200.1 L1114.4 199.1 L1114.3 198.1 L1114.3 197.1 L1114.3 196.1 L1114.2 195.1 L1114.2 194.1 L1114.2 193.1 L1114.2 192.1 L1114.1 191.1 L1114.1 190.1 L1114.1 189.1 L1114.1 188.1 L1114 187.1 L1114 186.1 L1114 185.1 L1114 184.1 L1114 183.1 L1114 182.1 L1114 181.1 L1113.9 180.1 L1113.9 179.1 L1113.9 178.1 L1113.9 177.1 L1113.9 176.1 L1113.9 175.1 L1113.9 174.1 L1113.8 173.1 L1113.8 172.1 L1113.8 171.1 L1113.8 170.1 L1113.8 169.1 L1113.8 168.1 L1113.8 167.1 L1113.8 166.1 L1113.8 165.1 L1113.8 164.1 L1113.8 163.1 L1113.8 162.1 L1113.8 161.1 L1113.8 160.1 L1113.7 159.1 L1113.7 158.1 L1113.7 157.1 L1113.7 156.1 L1113.7 155.1 L1113.7 154.1 L1113.7 153.1 L1113.7 152.1 L1113.7 151.1 L1113.7 150.1 L1113.7 149.1 L1113.7 148.1 L1113.7 147.1 L1113.7 146.1 L1113.7 145.1 L1113.7 144.1 L1113.7 143.1 L1113.7 142.1 L1113.7 141.1 L1113.7 140.1 L1113.7 139.1 L1113.7 138.1 L1113.7 137.1 L1113.7 136.1 L1113.7 135.1 L1113.7 134.1 L1113.7 133.1 L1113.7 132.1 L1113.7 131.1 L1113.7 130.1 L1113.7 129.1 L1113.7 128.1 L1113.7 127.1 L1113.7 126.1 L1113.7 125.1 L1113.7 124.1 L1113.7 123.1 L1113.7 122.1 L1113.7 121.1 L1113.7 120.1 L1113.7 119.1 L1113.7 118.1 L1113.7 117.1 L1113.7 116.1 L1113.7 115.1 L1113.7 114.1 L1113.7 113.1 L1113.7 112.1 L1113.7 111.1 L1113.7 110.1 L1113.7 109.1 L1113.7 108.1 L1113.7 107.1 L1113.7 106.1 L1113.7 105.1 L1113.7 104.1 L1113.7 103.1 L1113.7 102.1 L1113.7 101.1 L1113.7 100.1 L1113.7 99.1 L1113.7 98.1 L1113.7 97.1 L1113.7 96.1 L1113.7 95.1 L1113.7 94.1 L1113.7 93.1 L1113.7 92.1 L1113.7 91.1 L1113.7 90.1 L1113.7 89.1 L1113.7 88.1 L1113.7 87.1 L1113.7 86.1 L1113.7 85.1 L1113.7 84.1 L1113.7 83.1 L1113.7 82.1 L1113.7 81.1 L1113.7 80.1 L1113.7 79.1 L1113.7 78.1 L1113.7 77.1 L1113.7 76.1 L1113.7 75.1 L1113.7 74.1 L1113.7 73.1 L1113.7 72.1 L1113.7 71.1 L1113.7 70.1 L1113.7 69.1 L1113.7 68.1 L1113.7 67.1 L1113.7 66.1 L1113.7 65.1 L1113.7 64.1 L1113.7 63.1 L1113.7 62.1 L1113.7 61.1 L1113.7 60.1 L1113.7 59.1 L1113.7 58.1 L1113.7 57.1 L1113.7 56.1 L1113.7 55.1 L1113.7 54.1 L1113.7 53.1 L1113.7 52.1 L1113.7 51.1 L1113.7 50.1 L1113.7 49.1 L1113.7 48.1 L1113.7 47.1 Z" fill="#d67c63" stroke="#262626" stroke-width="1.8" stroke-linejoin="miter" stroke-miterlimit="4"/>
<line x1="780.4" y1="264" x2="780.4" y2="395.6" stroke="#262626" stroke-width="2.9" stroke-linecap="round"/>
<line x1="780.4" y1="338.6" x2="780.4" y2="386.5" stroke="#262626" stroke-width="8.5" stroke-linecap="round"/>
<rect x="776.8" y="379.2" width="7.2" height="2.0" fill="#f4f4f4"/>
<line x1="947" y1="348.7" x2="947" y2="394.4" stroke="#262626" stroke-width="2.9" stroke-linecap="round"/>
<line x1="947" y1="374.2" x2="947" y2="389.1" stroke="#262626" stroke-width="8.5" stroke-linecap="round"/>
<rect x="943.4" y="383.9" width="7.2" height="2.0" fill="#f4f4f4"/>
<line x1="1113.5" y1="288.8" x2="1113.5" y2="395.1" stroke="#262626" stroke-width="2.9" stroke-linecap="round"/>
<line x1="1113.5" y1="349.4" x2="1113.5" y2="387.9" stroke="#262626" stroke-width="8.5" stroke-linecap="round"/>
<rect x="1109.9" y="381" width="7.2" height="2.0" fill="#f4f4f4"/>
</g>
<g clip-path="url(#cc)">
<path d="M180.9 557.1 L180.6 558.1 L180.3 559.1 L180 560.1 L179.7 561.1 L179.3 562.1 L179 563.1 L178.6 564.1 L178.2 565.1 L177.8 566.1 L177.4 567.1 L177 568.1 L176.5 569.1 L176.1 570.1 L175.7 571.1 L175.2 572.1 L174.8 573.1 L174.4 574.1 L173.9 575.1 L173.5 576.1 L173 577.1 L172.6 578.1 L172.2 579.1 L171.8 580.1 L171.5 581.1 L171.2 582.1 L170.9 583.1 L170.7 584.1 L170.5 585.1 L170.3 586.1 L170.1 587.1 L170 588.1 L169.8 589.1 L169.7 590.1 L169.7 591.1 L169.6 592.1 L169.6 593.1 L169.6 594.1 L169.7 595.1 L169.7 596.1 L169.8 597.1 L170 598.1 L170.1 599.1 L170.3 600.1 L170.5 601.1 L170.7 602.1 L170.9 603.1 L171.1 604.1 L171.3 605.1 L171.5 606.1 L171.6 607.1 L171.8 608.1 L172 609.1 L172.1 610.1 L172.2 611.1 L172.3 612.1 L172.5 613.1 L172.6 614.1 L172.6 615.1 L172.7 616.1 L172.8 617.1 L172.8 618.1 L172.9 619.1 L172.9 620.1 L172.9 621.1 L172.9 622.1 L172.9 623.1 L172.9 624.1 L172.9 625.1 L172.9 626.1 L172.9 627.1 L172.9 628.1 L172.9 629.1 L172.9 630.1 L172.9 631.1 L172.9 632.1 L172.9 633.1 L172.9 634.1 L172.9 635.1 L172.9 636.1 L172.8 637.1 L172.8 638.1 L172.8 639.1 L172.8 640.1 L172.8 641.1 L172.8 642.1 L172.8 643.1 L172.8 644.1 L172.7 645.1 L172.7 646.1 L172.7 647.1 L172.7 648.1 L172.6 649.1 L172.6 650.1 L172.5 651.1 L172.5 652.1 L172.3 653.1 L172.2 654.1 L172.1 655.1 L172 656.1 L171.9 657.1 L171.7 658.1 L171.6 659.1 L171.4 660.1 L171.2 661.1 L171.1 662.1 L170.8 663.1 L170.6 664.1 L170.4 665.1 L170.2 666.1 L170 667.1 L169.9 668.1 L169.7 669.1 L169.5 670.1 L169.3 671.1 L169.1 672.1 L168.9 673.1 L168.7 674.1 L168.5 675.1 L168.2 676.1 L168 677.1 L167.7 678.1 L167.4 679.1 L167 680.1 L166.7 681.1 L166.3 682.1 L166 683.1 L165.5 684.1 L165.1 685.1 L164.5 686.1 L163.9 687.1 L163.2 688.1 L162.4 689.1 L161.7 690.1 L160.9 691.1 L160.2 692.1 L159.5 693.1 L158.8 694.1 L158.1 695.1 L157.4 696.1 L156.8 697.1 L156.2 698.1 L155.7 699.1 L155.1 700.1 L154.5 701.1 L153.9 702.1 L153.4 703.1 L152.8 704.1 L152.3 705.1 L151.8 706.1 L151.4 707.1 L151 708.1 L150.6 709.1 L150.3 710.1 L150.1 711.1 L149.9 712.1 L149.7 713.1 L149.6 714.1 L149.5 715.1 L149.4 716.1 L149.3 717.1 L149.3 718.1 L149.2 719.1 L149.2 720.1 L149.1 721.1 L149 722.1 L148.8 723.1 L148.6 724.1 L148.4 725.1 L148.1 726.1 L147.8 727.1 L147.3 728.1 L146.8 729.1 L146.2 730.1 L145.7 731.1 L145 732.1 L144.3 733.1 L143.6 734.1 L142.9 735.1 L142.1 736.1 L141.4 737.1 L140.7 738.1 L140.1 739.1 L139.4 740.1 L138.7 741.1 L138.1 742.1 L137.5 743.1 L137 744.1 L136.4 745.1 L135.8 746.1 L135.3 747.1 L134.7 748.1 L134.3 749.1 L133.9 750.1 L133.6 751.1 L133.3 752.1 L133.1 753.1 L133 754.1 L132.9 755.1 L132.9 756.1 L133 757.1 L133.1 758.1 L133.2 759.1 L133.2 760.1 L133.2 761.1 L133.1 762.1 L133.1 763.1 L133 764.1 L132.9 765.1 L132.8 766.1 L132.6 767.1 L132.4 768.1 L132.1 769.1 L131.8 770.1 L131.3 771.1 L130.7 772.1 L130 773.1 L129.1 774.1 L128.3 775.1 L127.4 776.1 L126.4 777.1 L125.3 778.1 L124.2 779.1 L123.2 780.1 L122.1 781.1 L121 782.1 L119.9 783.1 L119 784.1 L118.2 785.1 L117.5 786.1 L117 787.1 L116.5 788.1 L116.1 789.1 L115.8 790.1 L115.6 791.1 L115.4 792.1 L115.4 793.1 L115.5 794.1 L115.7 795.1 L116 796.1 L116.3 797.1 L116.8 798.1 L117.2 799.1 L117.7 800.1 L118.3 801.1 L119 802.1 L119.7 803.1 L120.3 804.1 L120.8 805.1 L121.4 806.1 L121.9 807.1 L122.2 808.1 L122.5 809.1 L122.6 810.1 L122.7 811.1 L122.6 812.1 L122.4 813.1 L122.1 814.1 L121.8 815.1 L121.4 816.1 L121 817.1 L120.6 818.1 L120.1 819.1 L119.7 820.1 L119.1 821.1 L118.5 822.1 L117.9 823.1 L117.4 824.1 L116.8 825.1 L116.4 826.1 L116.1 827.1 L115.9 828.1 L115.7 829.1 L115.6 830.1 L115.6 831.1 L115.7 832.1 L115.9 833.1 L116.2 834.1 L116.6 835.1 L117 836.1 L117.7 837.1 L118.4 838.1 L119.3 839.1 L120.1 840.1 L120.9 841.1 L121.7 842.1 L122.6 843.1 L123.4 844.1 L124.2 845.1 L125 846.1 L125.7 847.1 L126.4 848.1 L127.2 849.1 L127.8 850.1 L128.4 851.1 L128.8 852.1 L129 853.1 L129.2 854.1 L129.4 855.1 L129.5 856.1 L129.5 857.1 L129.5 858.1 L129.4 859.1 L129.3 860.1 L129.1 861.1 L129 862.1 L128.8 863.1 L128.7 864.1 L128.6 865.1 L128.6 866.1 L128.6 867.1 L128.6 868.1 L128.6 869.1 L128.7 870.1 L128.9 871.1 L129.4 872.1 L129.9 873.1 L130.6 874.1 L131.3 875.1 L132 876.1 L132.8 877.1 L133.6 878.1 L134.6 879.1 L135.5 880.1 L136.5 881.1 L137.4 882.1 L138.4 883.1 L139.3 884.1 L140.3 885.1 L141.3 886.1 L142.3 887.1 L143.2 888.1 L144.2 889.1 L145.1 890.1 L146 891.1 L146.9 892.1 L147.8 893.1 L148.5 894.1 L149.1 895.1 L149.7 896.1 L150.2 897.1 L150.7 898.1 L151.2 899.1 L151.6 900.1 L151.9 901.1 L152.2 902.1 L152.5 903.1 L152.8 904.1 L153.1 905.1 L153.4 906.1 L153.8 907.1 L154.2 908.1 L154.5 909.1 L155 910.1 L155.4 911.1 L155.9 912.1 L156.5 913.1 L157.2 914.1 L158 915.1 L158.8 916.1 L159.6 917.1 L160.5 918.1 L161.4 919.1 L162.3 920.1 L163.3 921.1 L164.2 922.1 L165.2 923.1 L166.2 924.1 L167.2 925.1 L168.2 926.1 L169.2 927.1 L170.1 928.1 L171 929.1 L171.7 930.1 L172.5 931.1 L173.2 932.1 L173.8 933.1 L174.4 934.1 L174.9 935.1 L175.4 936.1 L175.8 937.1 L176.3 938.1 L176.7 939.1 L177.1 940.1 L177.6 941.1 L178 942.1 L178.5 943.1 L178.9 944.1 L179.3 945.1 L179.7 946.1 L179.8 946.4 L184.8 946.4 L184.9 946.1 L185.3 945.1 L185.7 944.1 L186.1 943.1 L186.6 942.1 L187 941.1 L187.5 940.1 L187.9 939.1 L188.3 938.1 L188.8 937.1 L189.2 936.1 L189.7 935.1 L190.2 934.1 L190.8 933.1 L191.4 932.1 L192.1 931.1 L192.9 930.1 L193.6 929.1 L194.5 928.1 L195.4 927.1 L196.4 926.1 L197.4 925.1 L198.4 924.1 L199.4 923.1 L200.4 922.1 L201.3 921.1 L202.3 920.1 L203.2 919.1 L204.1 918.1 L205 917.1 L205.8 916.1 L206.6 915.1 L207.4 914.1 L208.1 913.1 L208.7 912.1 L209.2 911.1 L209.6 910.1 L210.1 909.1 L210.4 908.1 L210.8 907.1 L211.2 906.1 L211.5 905.1 L211.8 904.1 L212.1 903.1 L212.4 902.1 L212.7 901.1 L213 900.1 L213.4 899.1 L213.9 898.1 L214.4 897.1 L214.9 896.1 L215.5 895.1 L216.1 894.1 L216.8 893.1 L217.7 892.1 L218.6 891.1 L219.5 890.1 L220.4 889.1 L221.4 888.1 L222.3 887.1 L223.3 886.1 L224.3 885.1 L225.3 884.1 L226.2 883.1 L227.2 882.1 L228.1 881.1 L229.1 880.1 L230 879.1 L231 878.1 L231.8 877.1 L232.6 876.1 L233.3 875.1 L234 874.1 L234.7 873.1 L235.2 872.1 L235.7 871.1 L235.9 870.1 L236 869.1 L236 868.1 L236 867.1 L236 866.1 L236 865.1 L235.9 864.1 L235.8 863.1 L235.6 862.1 L235.5 861.1 L235.3 860.1 L235.2 859.1 L235.1 858.1 L235.1 857.1 L235.1 856.1 L235.2 855.1 L235.4 854.1 L235.6 853.1 L235.8 852.1 L236.2 851.1 L236.8 850.1 L237.4 849.1 L238.2 848.1 L238.9 847.1 L239.6 846.1 L240.4 845.1 L241.2 844.1 L242 843.1 L242.9 842.1 L243.7 841.1 L244.5 840.1 L245.3 839.1 L246.2 838.1 L246.9 837.1 L247.6 836.1 L248 835.1 L248.4 834.1 L248.7 833.1 L248.9 832.1 L249 831.1 L249 830.1 L248.9 829.1 L248.7 828.1 L248.5 827.1 L248.2 826.1 L247.8 825.1 L247.2 824.1 L246.7 823.1 L246.1 822.1 L245.5 821.1 L244.9 820.1 L244.5 819.1 L244 818.1 L243.6 817.1 L243.2 816.1 L242.8 815.1 L242.5 814.1 L242.2 813.1 L242 812.1 L241.9 811.1 L242 810.1 L242.1 809.1 L242.4 808.1 L242.7 807.1 L243.2 806.1 L243.8 805.1 L244.3 804.1 L244.9 803.1 L245.6 802.1 L246.3 801.1 L246.9 800.1 L247.4 799.1 L247.8 798.1 L248.3 797.1 L248.6 796.1 L248.9 795.1 L249.1 794.1 L249.2 793.1 L249.2 792.1 L249 791.1 L248.8 790.1 L248.5 789.1 L248.1 788.1 L247.6 787.1 L247.1 786.1 L246.4 785.1 L245.6 784.1 L244.7 783.1 L243.6 782.1 L242.5 781.1 L241.4 780.1 L240.4 779.1 L239.3 778.1 L238.2 777.1 L237.2 776.1 L236.3 775.1 L235.5 774.1 L234.6 773.1 L233.9 772.1 L233.3 771.1 L232.8 770.1 L232.5 769.1 L232.2 768.1 L232 767.1 L231.8 766.1 L231.7 765.1 L231.6 764.1 L231.5 763.1 L231.5 762.1 L231.4 761.1 L231.4 760.1 L231.4 759.1 L231.5 758.1 L231.6 757.1 L231.7 756.1 L231.7 755.1 L231.6 754.1 L231.5 753.1 L231.3 752.1 L231 751.1 L230.7 750.1 L230.3 749.1 L229.9 748.1 L229.3 747.1 L228.8 746.1 L228.2 745.1 L227.6 744.1 L227.1 743.1 L226.5 742.1 L225.9 741.1 L225.2 740.1 L224.5 739.1 L223.9 738.1 L223.2 737.1 L222.5 736.1 L221.7 735.1 L221 734.1 L220.3 733.1 L219.6 732.1 L218.9 731.1 L218.4 730.1 L217.8 729.1 L217.3 728.1 L216.8 727.1 L216.5 726.1 L216.2 725.1 L216 724.1 L215.8 723.1 L215.6 722.1 L215.5 721.1 L215.4 720.1 L215.4 719.1 L215.3 718.1 L215.3 717.1 L215.2 716.1 L215.1 715.1 L215 714.1 L214.9 713.1 L214.7 712.1 L214.5 711.1 L214.3 710.1 L214 709.1 L213.6 708.1 L213.2 707.1 L212.8 706.1 L212.3 705.1 L211.8 704.1 L211.2 703.1 L210.7 702.1 L210.1 701.1 L209.5 700.1 L208.9 699.1 L208.4 698.1 L207.8 697.1 L207.2 696.1 L206.5 695.1 L205.8 694.1 L205.1 693.1 L204.4 692.1 L203.7 691.1 L202.9 690.1 L202.2 689.1 L201.4 688.1 L200.7 687.1 L200.1 686.1 L199.5 685.1 L199.1 684.1 L198.6 683.1 L198.3 682.1 L197.9 681.1 L197.6 680.1 L197.2 679.1 L196.9 678.1 L196.6 677.1 L196.4 676.1 L196.1 675.1 L195.9 674.1 L195.7 673.1 L195.5 672.1 L195.3 671.1 L195.1 670.1 L194.9 669.1 L194.7 668.1 L194.6 667.1 L194.4 666.1 L194.2 665.1 L194 664.1 L193.8 663.1 L193.5 662.1 L193.4 661.1 L193.2 660.1 L193 659.1 L192.9 658.1 L192.7 657.1 L192.6 656.1 L192.5 655.1 L192.4 654.1 L192.3 653.1 L192.1 652.1 L192.1 651.1 L192 650.1 L192 649.1 L191.9 648.1 L191.9 647.1 L191.9 646.1 L191.9 645.1 L191.8 644.1 L191.8 643.1 L191.8 642.1 L191.8 641.1 L191.8 640.1 L191.8 639.1 L191.8 638.1 L191.8 637.1 L191.7 636.1 L191.7 635.1 L191.7 634.1 L191.7 633.1 L191.7 632.1 L191.7 631.1 L191.7 630.1 L191.7 629.1 L191.7 628.1 L191.7 627.1 L191.7 626.1 L191.7 625.1 L191.7 624.1 L191.7 623.1 L191.7 622.1 L191.7 621.1 L191.7 620.1 L191.7 619.1 L191.8 618.1 L191.8 617.1 L191.9 616.1 L192 615.1 L192 614.1 L192.1 613.1 L192.3 612.1 L192.4 611.1 L192.5 610.1 L192.6 609.1 L192.8 608.1 L193 607.1 L193.1 606.1 L193.3 605.1 L193.5 604.1 L193.7 603.1 L193.9 602.1 L194.1 601.1 L194.3 600.1 L194.5 599.1 L194.6 598.1 L194.8 597.1 L194.9 596.1 L194.9 595.1 L195 594.1 L195 593.1 L195 592.1 L194.9 591.1 L194.9 590.1 L194.8 589.1 L194.6 588.1 L194.5 587.1 L194.3 586.1 L194.1 585.1 L193.9 584.1 L193.7 583.1 L193.4 582.1 L193.1 581.1 L192.8 580.1 L192.4 579.1 L192 578.1 L191.6 577.1 L191.1 576.1 L190.7 575.1 L190.2 574.1 L189.8 573.1 L189.4 572.1 L188.9 571.1 L188.5 570.1 L188.1 569.1 L187.6 568.1 L187.2 567.1 L186.8 566.1 L186.4 565.1 L186 564.1 L185.6 563.1 L185.3 562.1 L184.9 561.1 L184.6 560.1 L184.3 559.1 L184 558.1 L183.7 557.1 Z" fill="#7f817f" stroke="#262626" stroke-width="1.8" stroke-linejoin="miter" stroke-miterlimit="4"/>
<path d="M348.7 541 L348.5 542 L348.3 543 L348.1 544 L347.8 545 L347.5 546 L347.2 547 L346.8 548 L346.4 549 L346 550 L345.6 551 L345.2 552 L344.9 553 L344.5 554 L344.1 555 L343.8 556 L343.4 557 L343 558 L342.7 559 L342.3 560 L341.9 561 L341.5 562 L341.1 563 L340.6 564 L340.2 565 L339.7 566 L339.2 567 L338.7 568 L338.1 569 L337.6 570 L337.1 571 L336.6 572 L336.1 573 L335.6 574 L335.1 575 L334.6 576 L334.1 577 L333.6 578 L333.1 579 L332.6 580 L332.1 581 L331.6 582 L331.1 583 L330.7 584 L330.3 585 L330 586 L329.7 587 L329.4 588 L329.2 589 L329.1 590 L328.9 591 L328.8 592 L328.7 593 L328.6 594 L328.5 595 L328.4 596 L328.4 597 L328.3 598 L328.3 599 L328.3 600 L328.3 601 L328.3 602 L328.3 603 L328.3 604 L328.4 605 L328.4 606 L328.5 607 L328.5 608 L328.6 609 L328.7 610 L328.7 611 L328.8 612 L328.9 613 L329 614 L329 615 L329.1 616 L329.2 617 L329.2 618 L329.3 619 L329.4 620 L329.4 621 L329.5 622 L329.5 623 L329.6 624 L329.6 625 L329.7 626 L329.7 627 L329.8 628 L329.8 629 L329.8 630 L329.9 631 L329.9 632 L329.9 633 L330 634 L330 635 L330 636 L330 637 L330.1 638 L330.1 639 L330.1 640 L330.1 641 L330.2 642 L330.2 643 L330.2 644 L330.3 645 L330.3 646 L330.3 647 L330.3 648 L330.3 649 L330.3 650 L330.2 651 L330.2 652 L330.1 653 L330.1 654 L330 655 L329.9 656 L329.8 657 L329.7 658 L329.6 659 L329.5 660 L329.3 661 L329.2 662 L329 663 L328.8 664 L328.7 665 L328.5 666 L328.3 667 L328.1 668 L327.9 669 L327.7 670 L327.5 671 L327.2 672 L327 673 L326.7 674 L326.5 675 L326.2 676 L326 677 L325.7 678 L325.4 679 L325.1 680 L324.8 681 L324.5 682 L324.2 683 L323.9 684 L323.6 685 L323.3 686 L322.9 687 L322.6 688 L322.2 689 L321.9 690 L321.5 691 L321.1 692 L320.8 693 L320.4 694 L320 695 L319.7 696 L319.3 697 L319 698 L318.6 699 L318.3 700 L317.9 701 L317.6 702 L317.2 703 L316.9 704 L316.5 705 L316.2 706 L315.8 707 L315.5 708 L315.1 709 L314.8 710 L314.4 711 L314.1 712 L313.7 713 L313.4 714 L313 715 L312.7 716 L312.4 717 L312 718 L311.7 719 L311.4 720 L311.1 721 L310.8 722 L310.5 723 L310.2 724 L309.8 725 L309.5 726 L309.2 727 L308.9 728 L308.6 729 L308.3 730 L308 731 L307.6 732 L307.3 733 L307 734 L306.7 735 L306.3 736 L305.9 737 L305.6 738 L305.2 739 L304.8 740 L304.3 741 L303.9 742 L303.5 743 L303.1 744 L302.7 745 L302.3 746 L301.9 747 L301.6 748 L301.2 749 L300.8 750 L300.5 751 L300.1 752 L299.8 753 L299.4 754 L299.1 755 L298.8 756 L298.4 757 L298.1 758 L297.8 759 L297.5 760 L297.2 761 L296.9 762 L296.6 763 L296.3 764 L296.1 765 L295.8 766 L295.5 767 L295.2 768 L295 769 L294.7 770 L294.4 771 L294.2 772 L293.9 773 L293.7 774 L293.4 775 L293.1 776 L292.9 777 L292.6 778 L292.4 779 L292.1 780 L291.9 781 L291.7 782 L291.5 783 L291.2 784 L291 785 L290.8 786 L290.6 787 L290.4 788 L290.2 789 L289.9 790 L289.7 791 L289.5 792 L289.3 793 L289.1 794 L288.9 795 L288.7 796 L288.5 797 L288.3 798 L288.1 799 L287.9 800 L287.7 801 L287.5 802 L287.3 803 L287.1 804 L286.9 805 L286.7 806 L286.5 807 L286.3 808 L286.1 809 L285.9 810 L285.7 811 L285.5 812 L285.3 813 L285.1 814 L284.9 815 L284.7 816 L284.5 817 L284.3 818 L284.1 819 L284 820 L283.8 821 L283.7 822 L283.5 823 L283.4 824 L283.3 825 L283.2 826 L283 827 L282.9 828 L282.9 829 L282.8 830 L282.7 831 L282.7 832 L282.6 833 L282.6 834 L282.6 835 L282.5 836 L282.5 837 L282.5 838 L282.6 839 L282.6 840 L282.7 841 L282.7 842 L282.8 843 L282.9 844 L283 845 L283.2 846 L283.3 847 L283.4 848 L283.5 849 L283.6 850 L283.7 851 L283.9 852 L284 853 L284.1 854 L284.2 855 L284.4 856 L284.5 857 L284.6 858 L284.8 859 L284.9 860 L285 861 L285.2 862 L285.3 863 L285.5 864 L285.7 865 L285.9 866 L286.2 867 L286.6 868 L286.9 869 L287.4 870 L287.8 871 L288.2 872 L288.7 873 L289.2 874 L289.8 875 L290.4 876 L291 877 L291.5 878 L292.1 879 L292.7 880 L293.3 881 L293.9 882 L294.6 883 L295.2 884 L295.9 885 L296.5 886 L297.2 887 L297.9 888 L298.6 889 L299.3 890 L300.1 891 L300.8 892 L301.5 893 L302.2 894 L302.9 895 L303.6 896 L304.3 897 L305 898 L305.6 899 L306.3 900 L306.9 901 L307.6 902 L308.2 903 L308.8 904 L309.5 905 L310.1 906 L310.7 907 L311.4 908 L312.1 909 L312.7 910 L313.4 911 L314.1 912 L314.8 913 L315.5 914 L316.3 915 L317.1 916 L317.9 917 L318.7 918 L319.5 919 L320.3 920 L321.1 921 L321.9 922 L322.8 923 L323.6 924 L324.4 925 L325.2 926 L326 927 L326.8 928 L327.6 929 L328.3 930 L329.1 931 L329.9 932 L330.6 933 L331.4 934 L332.1 935 L332.8 936 L333.5 937 L334.2 938 L334.9 939 L335.7 940 L336.4 941 L337.1 942 L337.8 943 L338.5 944 L339.1 945 L339.7 946 L340.2 947 L340.7 948 L341.2 949 L341.7 950 L342.2 951 L342.7 952 L343.1 953 L343.6 954 L344.1 955 L344.5 956 L344.9 957 L345.4 958 L345.8 959 L346.2 960 L346.6 961 L347 962 L347.3 963 L347.7 964 L348 965 L348.2 966 L348.5 967 L348.7 968 L349.3 968 L349.5 967 L349.8 966 L350 965 L350.3 964 L350.7 963 L351 962 L351.4 961 L351.8 960 L352.2 959 L352.6 958 L353.1 957 L353.5 956 L353.9 955 L354.4 954 L354.9 953 L355.3 952 L355.8 951 L356.3 950 L356.8 949 L357.3 948 L357.8 947 L358.3 946 L358.9 945 L359.5 944 L360.2 943 L360.9 942 L361.6 941 L362.3 940 L363.1 939 L363.8 938 L364.5 937 L365.2 936 L365.9 935 L366.6 934 L367.4 933 L368.1 932 L368.9 931 L369.7 930 L370.4 929 L371.2 928 L372 927 L372.8 926 L373.6 925 L374.4 924 L375.2 923 L376.1 922 L376.9 921 L377.7 920 L378.5 919 L379.3 918 L380.1 917 L380.9 916 L381.7 915 L382.5 914 L383.2 913 L383.9 912 L384.6 911 L385.3 910 L385.9 909 L386.6 908 L387.3 907 L387.9 906 L388.5 905 L389.2 904 L389.8 903 L390.4 902 L391.1 901 L391.7 900 L392.4 899 L393 898 L393.7 897 L394.4 896 L395.1 895 L395.8 894 L396.5 893 L397.2 892 L397.9 891 L398.7 890 L399.4 889 L400.1 888 L400.8 887 L401.5 886 L402.1 885 L402.8 884 L403.4 883 L404.1 882 L404.7 881 L405.3 880 L405.9 879 L406.5 878 L407 877 L407.6 876 L408.2 875 L408.8 874 L409.3 873 L409.8 872 L410.2 871 L410.6 870 L411.1 869 L411.4 868 L411.8 867 L412.1 866 L412.3 865 L412.5 864 L412.7 863 L412.8 862 L413 861 L413.1 860 L413.2 859 L413.4 858 L413.5 857 L413.6 856 L413.8 855 L413.9 854 L414 853 L414.1 852 L414.3 851 L414.4 850 L414.5 849 L414.6 848 L414.7 847 L414.8 846 L415 845 L415.1 844 L415.2 843 L415.3 842 L415.3 841 L415.4 840 L415.4 839 L415.5 838 L415.5 837 L415.5 836 L415.4 835 L415.4 834 L415.4 833 L415.3 832 L415.3 831 L415.2 830 L415.1 829 L415.1 828 L415 827 L414.8 826 L414.7 825 L414.6 824 L414.5 823 L414.3 822 L414.2 821 L414 820 L413.9 819 L413.7 818 L413.5 817 L413.3 816 L413.1 815 L412.9 814 L412.7 813 L412.5 812 L412.3 811 L412.1 810 L411.9 809 L411.7 808 L411.5 807 L411.3 806 L411.1 805 L410.9 804 L410.7 803 L410.5 802 L410.3 801 L410.1 800 L409.9 799 L409.7 798 L409.5 797 L409.3 796 L409.1 795 L408.9 794 L408.7 793 L408.5 792 L408.3 791 L408.1 790 L407.8 789 L407.6 788 L407.4 787 L407.2 786 L407 785 L406.8 784 L406.5 783 L406.3 782 L406.1 781 L405.9 780 L405.6 779 L405.4 778 L405.1 777 L404.9 776 L404.6 775 L404.3 774 L404.1 773 L403.8 772 L403.6 771 L403.3 770 L403 769 L402.8 768 L402.5 767 L402.2 766 L401.9 765 L401.7 764 L401.4 763 L401.1 762 L400.8 761 L400.5 760 L400.2 759 L399.9 758 L399.6 757 L399.2 756 L398.9 755 L398.6 754 L398.2 753 L397.9 752 L397.5 751 L397.2 750 L396.8 749 L396.4 748 L396.1 747 L395.7 746 L395.3 745 L394.9 744 L394.5 743 L394.1 742 L393.7 741 L393.2 740 L392.8 739 L392.4 738 L392.1 737 L391.7 736 L391.3 735 L391 734 L390.7 733 L390.4 732 L390 731 L389.7 730 L389.4 729 L389.1 728 L388.8 727 L388.5 726 L388.2 725 L387.8 724 L387.5 723 L387.2 722 L386.9 721 L386.6 720 L386.3 719 L386 718 L385.6 717 L385.3 716 L385 715 L384.6 714 L384.3 713 L383.9 712 L383.6 711 L383.2 710 L382.9 709 L382.5 708 L382.2 707 L381.8 706 L381.5 705 L381.1 704 L380.8 703 L380.4 702 L380.1 701 L379.7 700 L379.4 699 L379 698 L378.7 697 L378.3 696 L378 695 L377.6 694 L377.2 693 L376.9 692 L376.5 691 L376.1 690 L375.8 689 L375.4 688 L375.1 687 L374.7 686 L374.4 685 L374.1 684 L373.8 683 L373.5 682 L373.2 681 L372.9 680 L372.6 679 L372.3 678 L372 677 L371.8 676 L371.5 675 L371.3 674 L371 673 L370.8 672 L370.5 671 L370.3 670 L370.1 669 L369.9 668 L369.7 667 L369.5 666 L369.3 665 L369.2 664 L369 663 L368.8 662 L368.7 661 L368.5 660 L368.4 659 L368.3 658 L368.2 657 L368.1 656 L368 655 L367.9 654 L367.9 653 L367.8 652 L367.8 651 L367.7 650 L367.7 649 L367.7 648 L367.7 647 L367.7 646 L367.7 645 L367.8 644 L367.8 643 L367.8 642 L367.9 641 L367.9 640 L367.9 639 L367.9 638 L368 637 L368 636 L368 635 L368 634 L368.1 633 L368.1 632 L368.1 631 L368.2 630 L368.2 629 L368.2 628 L368.3 627 L368.3 626 L368.4 625 L368.4 624 L368.5 623 L368.5 622 L368.6 621 L368.6 620 L368.7 619 L368.8 618 L368.8 617 L368.9 616 L369 615 L369 614 L369.1 613 L369.2 612 L369.3 611 L369.3 610 L369.4 609 L369.5 608 L369.5 607 L369.6 606 L369.6 605 L369.7 604 L369.7 603 L369.7 602 L369.7 601 L369.7 600 L369.7 599 L369.7 598 L369.6 597 L369.6 596 L369.5 595 L369.4 594 L369.3 593 L369.2 592 L369.1 591 L368.9 590 L368.8 589 L368.6 588 L368.3 587 L368 586 L367.7 585 L367.3 584 L366.9 583 L366.4 582 L365.9 581 L365.4 580 L364.9 579 L364.4 578 L363.9 577 L363.4 576 L362.9 575 L362.4 574 L361.9 573 L361.4 572 L360.9 571 L360.4 570 L359.9 569 L359.3 568 L358.8 567 L358.3 566 L357.8 565 L357.4 564 L356.9 563 L356.5 562 L356.1 561 L355.7 560 L355.3 559 L355 558 L354.6 557 L354.2 556 L353.9 555 L353.5 554 L353.1 553 L352.8 552 L352.4 551 L352 550 L351.6 549 L351.2 548 L350.8 547 L350.5 546 L350.2 545 L349.9 544 L349.7 543 L349.5 542 L349.3 541 Z" fill="#632859" stroke="#262626" stroke-width="1.8" stroke-linejoin="miter" stroke-miterlimit="4"/>
<path d="M515.4 542 L515.2 543 L515 544 L514.7 545 L514.4 546 L514 547 L513.5 548 L513 549 L512.5 550 L512 551 L511.6 552 L511.2 553 L510.8 554 L510.5 555 L510.1 556 L509.7 557 L509.2 558 L508.8 559 L508.2 560 L507.7 561 L507.1 562 L506.5 563 L505.9 564 L505.3 565 L504.6 566 L503.9 567 L503.3 568 L502.6 569 L501.9 570 L501.3 571 L500.6 572 L499.9 573 L499.2 574 L498.6 575 L497.9 576 L497.1 577 L496.4 578 L495.8 579 L495.2 580 L494.6 581 L494.1 582 L493.6 583 L493.2 584 L492.8 585 L492.5 586 L492.1 587 L491.8 588 L491.5 589 L491.3 590 L491.1 591 L490.9 592 L490.7 593 L490.5 594 L490.4 595 L490.3 596 L490.3 597 L490.2 598 L490.2 599 L490.2 600 L490.2 601 L490.3 602 L490.3 603 L490.4 604 L490.5 605 L490.6 606 L490.8 607 L491 608 L491.1 609 L491.3 610 L491.4 611 L491.6 612 L491.7 613 L491.8 614 L491.9 615 L492 616 L492.1 617 L492.2 618 L492.3 619 L492.4 620 L492.4 621 L492.5 622 L492.5 623 L492.6 624 L492.6 625 L492.7 626 L492.7 627 L492.8 628 L492.8 629 L492.8 630 L492.9 631 L492.9 632 L492.9 633 L492.9 634 L493 635 L493 636 L493 637 L493.1 638 L493.1 639 L493.1 640 L493.2 641 L493.2 642 L493.2 643 L493.3 644 L493.3 645 L493.4 646 L493.4 647 L493.4 648 L493.4 649 L493.4 650 L493.3 651 L493.3 652 L493.2 653 L493.1 654 L493 655 L492.9 656 L492.7 657 L492.5 658 L492.2 659 L491.9 660 L491.6 661 L491.3 662 L490.9 663 L490.6 664 L490.3 665 L490 666 L489.7 667 L489.4 668 L489 669 L488.7 670 L488.3 671 L488 672 L487.6 673 L487.2 674 L486.9 675 L486.5 676 L486 677 L485.6 678 L485.1 679 L484.6 680 L484.1 681 L483.6 682 L483.1 683 L482.5 684 L481.9 685 L481.4 686 L480.8 687 L480.1 688 L479.5 689 L478.8 690 L478.1 691 L477.4 692 L476.8 693 L476.1 694 L475.4 695 L474.8 696 L474.2 697 L473.5 698 L472.9 699 L472.2 700 L471.6 701 L471 702 L470.4 703 L469.8 704 L469.3 705 L468.9 706 L468.4 707 L468 708 L467.6 709 L467.2 710 L466.9 711 L466.6 712 L466.2 713 L465.9 714 L465.7 715 L465.4 716 L465.2 717 L464.9 718 L464.7 719 L464.5 720 L464.3 721 L464.1 722 L463.9 723 L463.7 724 L463.4 725 L463.2 726 L463 727 L462.8 728 L462.5 729 L462.3 730 L462.1 731 L461.9 732 L461.6 733 L461.4 734 L461.1 735 L460.9 736 L460.6 737 L460.3 738 L460 739 L459.7 740 L459.4 741 L459.1 742 L458.8 743 L458.6 744 L458.3 745 L458.1 746 L457.9 747 L457.7 748 L457.5 749 L457.3 750 L457.1 751 L456.9 752 L456.7 753 L456.5 754 L456.3 755 L456.1 756 L456 757 L455.8 758 L455.6 759 L455.4 760 L455.2 761 L455 762 L454.8 763 L454.6 764 L454.4 765 L454.1 766 L453.9 767 L453.7 768 L453.5 769 L453.3 770 L453.1 771 L452.8 772 L452.6 773 L452.4 774 L452.1 775 L451.9 776 L451.6 777 L451.4 778 L451.1 779 L450.9 780 L450.6 781 L450.3 782 L450 783 L449.7 784 L449.5 785 L449.3 786 L449.2 787 L449.1 788 L449.1 789 L449 790 L449 791 L449 792 L449 793 L449.1 794 L449.1 795 L449.2 796 L449.4 797 L449.6 798 L449.8 799 L450 800 L450.2 801 L450.4 802 L450.6 803 L450.8 804 L451 805 L451.1 806 L451.3 807 L451.5 808 L451.7 809 L451.8 810 L452 811 L452.2 812 L452.3 813 L452.4 814 L452.6 815 L452.7 816 L452.8 817 L453 818 L453.1 819 L453.2 820 L453.4 821 L453.5 822 L453.7 823 L453.9 824 L454 825 L454.2 826 L454.4 827 L454.6 828 L454.8 829 L455 830 L455.2 831 L455.5 832 L455.8 833 L456.1 834 L456.4 835 L456.8 836 L457.2 837 L457.6 838 L458.1 839 L458.6 840 L459.1 841 L459.5 842 L460 843 L460.5 844 L461 845 L461.5 846 L462 847 L462.5 848 L462.9 849 L463.4 850 L463.8 851 L464.2 852 L464.6 853 L465.1 854 L465.5 855 L465.9 856 L466.4 857 L466.8 858 L467.2 859 L467.6 860 L468.1 861 L468.5 862 L468.9 863 L469.4 864 L469.8 865 L470.3 866 L470.8 867 L471.3 868 L471.8 869 L472.4 870 L472.9 871 L473.5 872 L474 873 L474.6 874 L475.1 875 L475.7 876 L476.2 877 L476.8 878 L477.4 879 L477.9 880 L478.5 881 L479.1 882 L479.7 883 L480.3 884 L481 885 L481.6 886 L482.3 887 L482.9 888 L483.6 889 L484.2 890 L484.9 891 L485.6 892 L486.2 893 L486.8 894 L487.3 895 L487.9 896 L488.4 897 L489 898 L489.7 899 L490.5 900 L491.3 901 L492.2 902 L493 903 L493.8 904 L494.5 905 L495.2 906 L495.9 907 L496.6 908 L497.2 909 L497.9 910 L498.5 911 L499.1 912 L499.7 913 L500.2 914 L500.8 915 L501.3 916 L501.8 917 L502.2 918 L502.7 919 L503.2 920 L503.7 921 L504.2 922 L504.8 923 L505.3 924 L505.8 925 L506.3 926 L506.7 927 L507.1 928 L507.5 929 L507.9 930 L508.3 931 L508.7 932 L509 933 L509.3 934 L509.6 935 L509.9 936 L510.2 937 L510.5 938 L510.8 939 L511 940 L511.3 941 L511.6 942 L511.8 943 L512.1 944 L512.3 945 L512.6 946 L512.8 947 L513.1 948 L513.3 949 L513.6 950 L513.8 951 L514 952 L514.2 953 L514.3 954 L514.5 955 L514.7 956 L514.9 957 L515.1 958 L515.2 959 L515.4 960 L516 960 L516.2 959 L516.3 958 L516.5 957 L516.7 956 L516.9 955 L517.1 954 L517.2 953 L517.4 952 L517.6 951 L517.8 950 L518.1 949 L518.3 948 L518.6 947 L518.8 946 L519.1 945 L519.3 944 L519.6 943 L519.8 942 L520.1 941 L520.4 940 L520.6 939 L520.9 938 L521.2 937 L521.5 936 L521.8 935 L522.1 934 L522.4 933 L522.7 932 L523.1 931 L523.5 930 L523.9 929 L524.3 928 L524.7 927 L525.1 926 L525.6 925 L526.1 924 L526.6 923 L527.2 922 L527.7 921 L528.2 920 L528.7 919 L529.2 918 L529.6 917 L530.1 916 L530.6 915 L531.2 914 L531.7 913 L532.3 912 L532.9 911 L533.5 910 L534.2 909 L534.8 908 L535.5 907 L536.2 906 L536.9 905 L537.6 904 L538.4 903 L539.2 902 L540.1 901 L540.9 900 L541.7 899 L542.4 898 L543 897 L543.5 896 L544.1 895 L544.6 894 L545.2 893 L545.8 892 L546.5 891 L547.2 890 L547.8 889 L548.5 888 L549.1 887 L549.8 886 L550.4 885 L551.1 884 L551.7 883 L552.3 882 L552.9 881 L553.5 880 L554 879 L554.6 878 L555.2 877 L555.7 876 L556.3 875 L556.8 874 L557.4 873 L557.9 872 L558.5 871 L559 870 L559.6 869 L560.1 868 L560.6 867 L561.1 866 L561.6 865 L562 864 L562.5 863 L562.9 862 L563.3 861 L563.8 860 L564.2 859 L564.6 858 L565 857 L565.5 856 L565.9 855 L566.3 854 L566.8 853 L567.2 852 L567.6 851 L568 850 L568.5 849 L568.9 848 L569.4 847 L569.9 846 L570.4 845 L570.9 844 L571.4 843 L571.9 842 L572.3 841 L572.8 840 L573.3 839 L573.8 838 L574.2 837 L574.6 836 L575 835 L575.3 834 L575.6 833 L575.9 832 L576.2 831 L576.4 830 L576.6 829 L576.8 828 L577 827 L577.2 826 L577.4 825 L577.5 824 L577.7 823 L577.9 822 L578 821 L578.2 820 L578.3 819 L578.4 818 L578.6 817 L578.7 816 L578.8 815 L579 814 L579.1 813 L579.2 812 L579.4 811 L579.6 810 L579.7 809 L579.9 808 L580.1 807 L580.3 806 L580.4 805 L580.6 804 L580.8 803 L581 802 L581.2 801 L581.4 800 L581.6 799 L581.8 798 L582 797 L582.2 796 L582.3 795 L582.3 794 L582.4 793 L582.4 792 L582.4 791 L582.4 790 L582.3 789 L582.3 788 L582.2 787 L582.1 786 L581.9 785 L581.7 784 L581.4 783 L581.1 782 L580.8 781 L580.5 780 L580.3 779 L580 778 L579.8 777 L579.5 776 L579.3 775 L579 774 L578.8 773 L578.6 772 L578.3 771 L578.1 770 L577.9 769 L577.7 768 L577.5 767 L577.3 766 L577 765 L576.8 764 L576.6 763 L576.4 762 L576.2 761 L576 760 L575.8 759 L575.6 758 L575.4 757 L575.3 756 L575.1 755 L574.9 754 L574.7 753 L574.5 752 L574.3 751 L574.1 750 L573.9 749 L573.7 748 L573.5 747 L573.3 746 L573.1 745 L572.8 744 L572.6 743 L572.3 742 L572 741 L571.7 740 L571.4 739 L571.1 738 L570.8 737 L570.5 736 L570.3 735 L570 734 L569.8 733 L569.5 732 L569.3 731 L569.1 730 L568.9 729 L568.6 728 L568.4 727 L568.2 726 L568 725 L567.7 724 L567.5 723 L567.3 722 L567.1 721 L566.9 720 L566.7 719 L566.5 718 L566.2 717 L566 716 L565.7 715 L565.5 714 L565.2 713 L564.8 712 L564.5 711 L564.2 710 L563.8 709 L563.4 708 L563 707 L562.5 706 L562.1 705 L561.6 704 L561 703 L560.4 702 L559.8 701 L559.2 700 L558.5 699 L557.9 698 L557.2 697 L556.6 696 L556 695 L555.3 694 L554.6 693 L554 692 L553.3 691 L552.6 690 L551.9 689 L551.3 688 L550.6 687 L550 686 L549.5 685 L548.9 684 L548.3 683 L547.8 682 L547.3 681 L546.8 680 L546.3 679 L545.8 678 L545.4 677 L544.9 676 L544.5 675 L544.2 674 L543.8 673 L543.4 672 L543.1 671 L542.7 670 L542.4 669 L542 668 L541.7 667 L541.4 666 L541.1 665 L540.8 664 L540.5 663 L540.1 662 L539.8 661 L539.5 660 L539.2 659 L538.9 658 L538.7 657 L538.5 656 L538.4 655 L538.3 654 L538.2 653 L538.1 652 L538.1 651 L538 650 L538 649 L538 648 L538 647 L538 646 L538.1 645 L538.1 644 L538.2 643 L538.2 642 L538.2 641 L538.3 640 L538.3 639 L538.3 638 L538.4 637 L538.4 636 L538.4 635 L538.5 634 L538.5 633 L538.5 632 L538.5 631 L538.6 630 L538.6 629 L538.6 628 L538.7 627 L538.7 626 L538.8 625 L538.8 624 L538.9 623 L538.9 622 L539 621 L539 620 L539.1 619 L539.2 618 L539.3 617 L539.4 616 L539.5 615 L539.6 614 L539.7 613 L539.8 612 L540 611 L540.1 610 L540.3 609 L540.4 608 L540.6 607 L540.8 606 L540.9 605 L541 604 L541.1 603 L541.1 602 L541.2 601 L541.2 600 L541.2 599 L541.2 598 L541.1 597 L541.1 596 L541 595 L540.9 594 L540.7 593 L540.5 592 L540.3 591 L540.1 590 L539.9 589 L539.6 588 L539.3 587 L538.9 586 L538.6 585 L538.2 584 L537.8 583 L537.3 582 L536.8 581 L536.2 580 L535.6 579 L535 578 L534.3 577 L533.5 576 L532.8 575 L532.2 574 L531.5 573 L530.8 572 L530.1 571 L529.5 570 L528.8 569 L528.1 568 L527.5 567 L526.8 566 L526.1 565 L525.5 564 L524.9 563 L524.3 562 L523.7 561 L523.2 560 L522.6 559 L522.2 558 L521.7 557 L521.3 556 L520.9 555 L520.6 554 L520.2 553 L519.8 552 L519.4 551 L518.9 550 L518.4 549 L517.9 548 L517.4 547 L517 546 L516.7 545 L516.4 544 L516.2 543 L516 542 Z" fill="#d67c63" stroke="#262626" stroke-width="1.8" stroke-linejoin="miter" stroke-miterlimit="4"/>
<line x1="182.3" y1="631.4" x2="182.3" y2="912.4" stroke="#262626" stroke-width="2.9" stroke-linecap="round"/>
<line x1="182.3" y1="751.8" x2="182.3" y2="832.1" stroke="#262626" stroke-width="8.5" stroke-linecap="round"/>
<rect x="178.7" y="790.9" width="7.2" height="2.0" fill="#f4f4f4"/>
<line x1="349" y1="591.2" x2="349" y2="912.4" stroke="#262626" stroke-width="2.9" stroke-linecap="round"/>
<line x1="349" y1="711.7" x2="349" y2="872.2" stroke="#262626" stroke-width="8.5" stroke-linecap="round"/>
<rect x="345.4" y="790.9" width="7.2" height="2.0" fill="#f4f4f4"/>
<line x1="515.7" y1="591.2" x2="515.7" y2="912.4" stroke="#262626" stroke-width="2.9" stroke-linecap="round"/>
<line x1="515.7" y1="711.7" x2="515.7" y2="832.1" stroke="#262626" stroke-width="8.5" stroke-linecap="round"/>
<rect x="512.1" y="790.9" width="7.2" height="2.0" fill="#f4f4f4"/>
</g>
<g clip-path="url(#cd)">
<path d="M780.2 665.7 L780.2 666.7 L780.2 667.7 L780.2 668.7 L780.2 669.7 L780.1 670.7 L780.1 671.7 L780.1 672.7 L780.1 673.7 L780.1 674.7 L780.1 675.7 L780.1 676.7 L780.1 677.7 L780.1 678.7 L780.1 679.7 L780 680.7 L780 681.7 L780 682.7 L780 683.7 L780 684.7 L780 685.7 L780 686.7 L780 687.7 L780 688.7 L780 689.7 L780 690.7 L780 691.7 L780 692.7 L780 693.7 L780 694.7 L780 695.7 L780 696.7 L780 697.7 L780 698.7 L780 699.7 L779.9 700.7 L779.9 701.7 L779.9 702.7 L779.9 703.7 L779.9 704.7 L779.9 705.7 L779.9 706.7 L779.9 707.7 L779.9 708.7 L779.9 709.7 L779.9 710.7 L779.9 711.7 L779.9 712.7 L779.9 713.7 L779.9 714.7 L779.9 715.7 L779.9 716.7 L779.8 717.7 L779.8 718.7 L779.8 719.7 L779.8 720.7 L779.8 721.7 L779.8 722.7 L779.8 723.7 L779.8 724.7 L779.8 725.7 L779.8 726.7 L779.8 727.7 L779.8 728.7 L779.8 729.7 L779.8 730.7 L779.8 731.7 L779.8 732.7 L779.8 733.7 L779.8 734.7 L779.8 735.7 L779.8 736.7 L779.8 737.7 L779.8 738.7 L779.8 739.7 L779.8 740.7 L779.8 741.7 L779.8 742.7 L779.8 743.7 L779.8 744.7 L779.8 745.7 L779.8 746.7 L779.7 747.7 L779.7 748.7 L779.7 749.7 L779.7 750.7 L779.7 751.7 L779.7 752.7 L779.7 753.7 L779.7 754.7 L779.7 755.7 L779.6 756.7 L779.6 757.7 L779.6 758.7 L779.6 759.7 L779.6 760.7 L779.6 761.7 L779.6 762.7 L779.5 763.7 L779.5 764.7 L779.5 765.7 L779.5 766.7 L779.4 767.7 L779.4 768.7 L779.4 769.7 L779.3 770.7 L779.3 771.7 L779.3 772.7 L779.2 773.7 L779.2 774.7 L779.2 775.7 L779.1 776.7 L779.1 777.7 L779 778.7 L779 779.7 L779 780.7 L778.9 781.7 L778.9 782.7 L778.8 783.7 L778.8 784.7 L778.7 785.7 L778.6 786.7 L778.6 787.7 L778.5 788.7 L778.4 789.7 L778.3 790.7 L778.2 791.7 L778 792.7 L777.9 793.7 L777.8 794.7 L777.8 795.7 L778 796.7 L778.1 797.7 L778.3 798.7 L778.4 799.7 L778.5 800.7 L778.6 801.7 L778.6 802.7 L778.6 803.7 L778.6 804.7 L778.5 805.7 L778.5 806.7 L778.4 807.7 L778.3 808.7 L778.2 809.7 L778.1 810.7 L777.9 811.7 L777.8 812.7 L777.7 813.7 L777.5 814.7 L777.4 815.7 L777.1 816.7 L776.9 817.7 L776.7 818.7 L776.6 819.7 L776.4 820.7 L776.2 821.7 L776 822.7 L775.7 823.7 L775.4 824.7 L775 825.7 L774.7 826.7 L774.5 827.7 L774.2 828.7 L774 829.7 L773.7 830.7 L773.2 831.7 L772.7 832.7 L772 833.7 L771.4 834.7 L770.8 835.7 L770.2 836.7 L769.6 837.7 L768.9 838.7 L768.1 839.7 L767.3 840.7 L766.5 841.7 L765.7 842.7 L765 843.7 L764.3 844.7 L763.6 845.7 L763 846.7 L762.3 847.7 L761.7 848.7 L761.1 849.7 L760.6 850.7 L760.1 851.7 L759.7 852.7 L759.4 853.7 L759 854.7 L758.6 855.7 L758.2 856.7 L757.8 857.7 L757.4 858.7 L757 859.7 L756.6 860.7 L756.1 861.7 L755.6 862.7 L755.2 863.7 L754.7 864.7 L754.3 865.7 L753.9 866.7 L753.5 867.7 L753.1 868.7 L752.7 869.7 L752.5 870.7 L752.3 871.7 L752.1 872.7 L751.9 873.7 L751.8 874.7 L751.8 875.7 L751.9 876.7 L751.9 877.7 L751.8 878.7 L751.3 879.7 L750.7 880.7 L750.1 881.7 L749.3 882.7 L748.5 883.7 L747.7 884.7 L746.9 885.7 L746 886.7 L745.1 887.7 L744.3 888.7 L743.7 889.7 L743.1 890.7 L742.7 891.7 L742.2 892.7 L741.8 893.7 L741.3 894.7 L740.8 895.7 L740.3 896.7 L739.8 897.7 L739.2 898.7 L738.6 899.7 L737.8 900.7 L737 901.7 L736.1 902.7 L734.9 903.7 L733.7 904.7 L732.4 905.7 L731 906.7 L729.5 907.7 L727.9 908.7 L726.3 909.7 L724.8 910.7 L723.2 911.7 L721.6 912.7 L720 913.7 L718.3 914.7 L716.6 915.7 L715.3 916.7 L714.3 917.7 L713.9 918.7 L714.4 919.7 L715.6 920.7 L717.1 921.7 L718.7 922.7 L720.8 923.7 L723.2 924.7 L725.9 925.7 L729.3 926.7 L733.3 927.7 L737.8 928.7 L742 929.7 L745.8 930.7 L749.5 931.7 L753.3 932.7 L757.1 933.7 L760.9 934.7 L764.6 935.7 L768.3 936.7 L771.6 937.7 L774.3 938.7 L776.2 939.7 L776.5 940 L784.5 940 L784.8 939.7 L786.7 938.7 L789.4 937.7 L792.7 936.7 L796.4 935.7 L800.1 934.7 L803.9 933.7 L807.7 932.7 L811.5 931.7 L815.2 930.7 L819 929.7 L823.2 928.7 L827.7 927.7 L831.7 926.7 L835.1 925.7 L837.8 924.7 L840.2 923.7 L842.3 922.7 L843.9 921.7 L845.4 920.7 L846.6 919.7 L847.1 918.7 L846.7 917.7 L845.7 916.7 L844.4 915.7 L842.7 914.7 L841 913.7 L839.4 912.7 L837.8 911.7 L836.2 910.7 L834.7 909.7 L833.1 908.7 L831.5 907.7 L830 906.7 L828.6 905.7 L827.3 904.7 L826.1 903.7 L824.9 902.7 L824 901.7 L823.2 900.7 L822.4 899.7 L821.8 898.7 L821.2 897.7 L820.7 896.7 L820.2 895.7 L819.7 894.7 L819.2 893.7 L818.8 892.7 L818.3 891.7 L817.9 890.7 L817.3 889.7 L816.7 888.7 L815.9 887.7 L815 886.7 L814.1 885.7 L813.3 884.7 L812.5 883.7 L811.7 882.7 L810.9 881.7 L810.3 880.7 L809.7 879.7 L809.2 878.7 L809.1 877.7 L809.1 876.7 L809.2 875.7 L809.2 874.7 L809.1 873.7 L808.9 872.7 L808.7 871.7 L808.5 870.7 L808.3 869.7 L807.9 868.7 L807.5 867.7 L807.1 866.7 L806.7 865.7 L806.3 864.7 L805.8 863.7 L805.4 862.7 L804.9 861.7 L804.4 860.7 L804 859.7 L803.6 858.7 L803.2 857.7 L802.8 856.7 L802.4 855.7 L802 854.7 L801.6 853.7 L801.3 852.7 L800.9 851.7 L800.4 850.7 L799.9 849.7 L799.3 848.7 L798.7 847.7 L798 846.7 L797.4 845.7 L796.7 844.7 L796 843.7 L795.3 842.7 L794.5 841.7 L793.7 840.7 L792.9 839.7 L792.1 838.7 L791.4 837.7 L790.8 836.7 L790.2 835.7 L789.6 834.7 L789 833.7 L788.3 832.7 L787.8 831.7 L787.3 830.7 L787 829.7 L786.8 828.7 L786.5 827.7 L786.3 826.7 L786 825.7 L785.6 824.7 L785.3 823.7 L785 822.7 L784.8 821.7 L784.6 820.7 L784.4 819.7 L784.3 818.7 L784.1 817.7 L783.9 816.7 L783.6 815.7 L783.5 814.7 L783.3 813.7 L783.2 812.7 L783.1 811.7 L782.9 810.7 L782.8 809.7 L782.7 808.7 L782.6 807.7 L782.5 806.7 L782.5 805.7 L782.4 804.7 L782.4 803.7 L782.4 802.7 L782.4 801.7 L782.5 800.7 L782.6 799.7 L782.7 798.7 L782.9 797.7 L783 796.7 L783.2 795.7 L783.2 794.7 L783.1 793.7 L783 792.7 L782.8 791.7 L782.7 790.7 L782.6 789.7 L782.5 788.7 L782.4 787.7 L782.4 786.7 L782.3 785.7 L782.2 784.7 L782.2 783.7 L782.1 782.7 L782.1 781.7 L782 780.7 L782 779.7 L782 778.7 L781.9 777.7 L781.9 776.7 L781.8 775.7 L781.8 774.7 L781.8 773.7 L781.7 772.7 L781.7 771.7 L781.7 770.7 L781.6 769.7 L781.6 768.7 L781.6 767.7 L781.5 766.7 L781.5 765.7 L781.5 764.7 L781.5 763.7 L781.4 762.7 L781.4 761.7 L781.4 760.7 L781.4 759.7 L781.4 758.7 L781.4 757.7 L781.4 756.7 L781.3 755.7 L781.3 754.7 L781.3 753.7 L781.3 752.7 L781.3 751.7 L781.3 750.7 L781.3 749.7 L781.3 748.7 L781.3 747.7 L781.2 746.7 L781.2 745.7 L781.2 744.7 L781.2 743.7 L781.2 742.7 L781.2 741.7 L781.2 740.7 L781.2 739.7 L781.2 738.7 L781.2 737.7 L781.2 736.7 L781.2 735.7 L781.2 734.7 L781.2 733.7 L781.2 732.7 L781.2 731.7 L781.2 730.7 L781.2 729.7 L781.2 728.7 L781.2 727.7 L781.2 726.7 L781.2 725.7 L781.2 724.7 L781.2 723.7 L781.2 722.7 L781.2 721.7 L781.2 720.7 L781.2 719.7 L781.2 718.7 L781.2 717.7 L781.1 716.7 L781.1 715.7 L781.1 714.7 L781.1 713.7 L781.1 712.7 L781.1 711.7 L781.1 710.7 L781.1 709.7 L781.1 708.7 L781.1 707.7 L781.1 706.7 L781.1 705.7 L781.1 704.7 L781.1 703.7 L781.1 702.7 L781.1 701.7 L781.1 700.7 L781 699.7 L781 698.7 L781 697.7 L781 696.7 L781 695.7 L781 694.7 L781 693.7 L781 692.7 L781 691.7 L781 690.7 L781 689.7 L781 688.7 L781 687.7 L781 686.7 L781 685.7 L781 684.7 L781 683.7 L781 682.7 L781 681.7 L781 680.7 L780.9 679.7 L780.9 678.7 L780.9 677.7 L780.9 676.7 L780.9 675.7 L780.9 674.7 L780.9 673.7 L780.9 672.7 L780.9 671.7 L780.9 670.7 L780.8 669.7 L780.8 668.7 L780.8 667.7 L780.8 666.7 L780.8 665.7 Z" fill="#7f817f" stroke="#262626" stroke-width="1.8" stroke-linejoin="miter" stroke-miterlimit="4"/>
<path d="M946.8 587.7 L946.8 588.7 L946.8 589.7 L946.8 590.7 L946.8 591.7 L946.7 592.7 L946.7 593.7 L946.7 594.7 L946.7 595.7 L946.7 596.7 L946.7 597.7 L946.7 598.7 L946.7 599.7 L946.7 600.7 L946.7 601.7 L946.7 602.7 L946.7 603.7 L946.7 604.7 L946.7 605.7 L946.7 606.7 L946.7 607.7 L946.7 608.7 L946.7 609.7 L946.7 610.7 L946.7 611.7 L946.7 612.7 L946.7 613.7 L946.7 614.7 L946.7 615.7 L946.7 616.7 L946.7 617.7 L946.7 618.7 L946.7 619.7 L946.7 620.7 L946.7 621.7 L946.7 622.7 L946.7 623.7 L946.7 624.7 L946.7 625.7 L946.7 626.7 L946.7 627.7 L946.7 628.7 L946.7 629.7 L946.7 630.7 L946.7 631.7 L946.7 632.7 L946.7 633.7 L946.7 634.7 L946.7 635.7 L946.7 636.7 L946.7 637.7 L946.7 638.7 L946.7 639.7 L946.7 640.7 L946.7 641.7 L946.7 642.7 L946.7 643.7 L946.7 644.7 L946.7 645.7 L946.7 646.7 L946.7 647.7 L946.7 648.7 L946.7 649.7 L946.7 650.7 L946.7 651.7 L946.7 652.7 L946.7 653.7 L946.7 654.7 L946.7 655.7 L946.7 656.7 L946.7 657.7 L946.7 658.7 L946.7 659.7 L946.7 660.7 L946.7 661.7 L946.7 662.7 L946.7 663.7 L946.7 664.7 L946.7 665.7 L946.7 666.7 L946.7 667.7 L946.7 668.7 L946.7 669.7 L946.7 670.7 L946.7 671.7 L946.7 672.7 L946.7 673.7 L946.7 674.7 L946.7 675.7 L946.8 676.7 L946.8 677.7 L946.8 678.7 L946.8 679.7 L946.8 680.7 L946.8 681.7 L946.8 682.7 L946.8 683.7 L946.8 684.7 L946.8 685.7 L946.8 686.7 L946.8 687.7 L946.8 688.7 L946.8 689.7 L946.8 690.7 L946.8 691.7 L946.8 692.7 L946.8 693.7 L946.7 694.7 L946.7 695.7 L946.6 696.7 L946.6 697.7 L946.6 698.7 L946.5 699.7 L946.5 700.7 L946.4 701.7 L946.3 702.7 L946.3 703.7 L946.2 704.7 L946.1 705.7 L946 706.7 L945.9 707.7 L945.9 708.7 L945.8 709.7 L945.7 710.7 L945.7 711.7 L945.6 712.7 L945.5 713.7 L945.5 714.7 L945.4 715.7 L945.3 716.7 L945.3 717.7 L945.2 718.7 L945.2 719.7 L945.1 720.7 L945.1 721.7 L945 722.7 L945 723.7 L945 724.7 L945 725.7 L945 726.7 L945 727.7 L945.1 728.7 L945.1 729.7 L945.2 730.7 L945.2 731.7 L945.3 732.7 L945.4 733.7 L945.4 734.7 L945.5 735.7 L945.5 736.7 L945.5 737.7 L945.4 738.7 L945.4 739.7 L945.4 740.7 L945.3 741.7 L945.2 742.7 L945.1 743.7 L945 744.7 L945 745.7 L944.9 746.7 L944.8 747.7 L944.7 748.7 L944.6 749.7 L944.5 750.7 L944.4 751.7 L944.2 752.7 L944.1 753.7 L943.9 754.7 L943.8 755.7 L943.6 756.7 L943.5 757.7 L943.3 758.7 L943.1 759.7 L942.9 760.7 L942.8 761.7 L942.6 762.7 L942.5 763.7 L942.3 764.7 L942.2 765.7 L942 766.7 L941.9 767.7 L941.7 768.7 L941.6 769.7 L941.5 770.7 L941.3 771.7 L941.1 772.7 L940.9 773.7 L940.7 774.7 L940.5 775.7 L940.3 776.7 L940.1 777.7 L939.9 778.7 L939.7 779.7 L939.5 780.7 L939.3 781.7 L939.2 782.7 L939.1 783.7 L939 784.7 L938.8 785.7 L938.6 786.7 L938.3 787.7 L937.9 788.7 L937.5 789.7 L937.2 790.7 L936.8 791.7 L936.5 792.7 L936.1 793.7 L935.8 794.7 L935.4 795.7 L935.1 796.7 L934.7 797.7 L934.3 798.7 L933.9 799.7 L933.5 800.7 L933 801.7 L932.6 802.7 L932.1 803.7 L931.7 804.7 L931.2 805.7 L930.7 806.7 L930.2 807.7 L929.7 808.7 L929.1 809.7 L928.6 810.7 L928 811.7 L927.4 812.7 L926.9 813.7 L926.3 814.7 L925.8 815.7 L925.3 816.7 L924.8 817.7 L924.3 818.7 L923.8 819.7 L923.3 820.7 L922.8 821.7 L922.3 822.7 L921.7 823.7 L921 824.7 L920.3 825.7 L919.6 826.7 L918.7 827.7 L917.8 828.7 L916.8 829.7 L915.5 830.7 L914.1 831.7 L912.6 832.7 L911.1 833.7 L909.7 834.7 L908.2 835.7 L906.8 836.7 L905.3 837.7 L903.8 838.7 L902.3 839.7 L900.8 840.7 L899.3 841.7 L897.7 842.7 L896.2 843.7 L894.5 844.7 L892.9 845.7 L891.4 846.7 L890 847.7 L888.7 848.7 L887.4 849.7 L886.3 850.7 L885.3 851.7 L884.4 852.7 L883.5 853.7 L882.8 854.7 L882.1 855.7 L881.5 856.7 L881.1 857.7 L880.6 858.7 L880.3 859.7 L880.1 860.7 L880.1 861.7 L880.4 862.7 L880.9 863.7 L881.5 864.7 L882.2 865.7 L883.3 866.7 L884.5 867.7 L885.8 868.7 L887.2 869.7 L888.6 870.7 L890.2 871.7 L891.9 872.7 L893.6 873.7 L895.3 874.7 L897 875.7 L898.7 876.7 L900.4 877.7 L902.1 878.7 L903.8 879.7 L905.5 880.7 L907.1 881.7 L908.7 882.7 L910.2 883.7 L911.6 884.7 L913 885.7 L914.2 886.7 L915.4 887.7 L916.3 888.7 L917.1 889.7 L917.9 890.7 L918.5 891.7 L919.1 892.7 L919.6 893.7 L920.1 894.7 L920.6 895.7 L921 896.7 L921.4 897.7 L921.7 898.7 L922 899.7 L922.2 900.7 L922.4 901.7 L922.7 902.7 L923 903.7 L923.3 904.7 L923.7 905.7 L924.1 906.7 L924.5 907.7 L925.1 908.7 L925.8 909.7 L926.6 910.7 L927.4 911.7 L928.2 912.7 L929.1 913.7 L930 914.7 L930.9 915.7 L931.8 916.7 L932.7 917.7 L933.6 918.7 L934.5 919.7 L935.4 920.7 L936.3 921.7 L937.2 922.7 L938 923.7 L938.8 924.7 L939.6 925.7 L940.4 926.7 L941.1 927.7 L941.8 928.7 L942.4 929.7 L943 930.7 L943.5 931.7 L944 932.7 L944.4 933.7 L944.7 934.7 L945.1 935.7 L945.3 936.7 L945.6 937.7 L945.9 938.7 L946.1 939.7 L946.3 940.7 L946.5 941.7 L946.6 942.7 L946.7 943.7 L946.8 944.7 L946.8 945.1 L947.4 945.1 L947.4 944.7 L947.5 943.7 L947.6 942.7 L947.7 941.7 L947.9 940.7 L948.1 939.7 L948.3 938.7 L948.6 937.7 L948.9 936.7 L949.1 935.7 L949.5 934.7 L949.8 933.7 L950.2 932.7 L950.7 931.7 L951.2 930.7 L951.8 929.7 L952.4 928.7 L953.1 927.7 L953.8 926.7 L954.6 925.7 L955.4 924.7 L956.2 923.7 L957 922.7 L957.9 921.7 L958.8 920.7 L959.7 919.7 L960.6 918.7 L961.5 917.7 L962.4 916.7 L963.3 915.7 L964.2 914.7 L965.1 913.7 L966 912.7 L966.8 911.7 L967.6 910.7 L968.4 909.7 L969.1 908.7 L969.7 907.7 L970.1 906.7 L970.5 905.7 L970.9 904.7 L971.2 903.7 L971.5 902.7 L971.8 901.7 L972 900.7 L972.2 899.7 L972.5 898.7 L972.8 897.7 L973.2 896.7 L973.6 895.7 L974.1 894.7 L974.6 893.7 L975.1 892.7 L975.7 891.7 L976.3 890.7 L977.1 889.7 L977.9 888.7 L978.8 887.7 L980 886.7 L981.2 885.7 L982.6 884.7 L984 883.7 L985.5 882.7 L987.1 881.7 L988.7 880.7 L990.4 879.7 L992.1 878.7 L993.8 877.7 L995.5 876.7 L997.2 875.7 L998.9 874.7 L1000.6 873.7 L1002.3 872.7 L1004 871.7 L1005.6 870.7 L1007 869.7 L1008.4 868.7 L1009.7 867.7 L1010.9 866.7 L1012 865.7 L1012.7 864.7 L1013.3 863.7 L1013.8 862.7 L1014.1 861.7 L1014.1 860.7 L1013.9 859.7 L1013.6 858.7 L1013.1 857.7 L1012.7 856.7 L1012.1 855.7 L1011.4 854.7 L1010.7 853.7 L1009.8 852.7 L1008.9 851.7 L1007.9 850.7 L1006.8 849.7 L1005.5 848.7 L1004.2 847.7 L1002.8 846.7 L1001.3 845.7 L999.7 844.7 L998 843.7 L996.5 842.7 L994.9 841.7 L993.4 840.7 L991.9 839.7 L990.4 838.7 L988.9 837.7 L987.4 836.7 L986 835.7 L984.5 834.7 L983.1 833.7 L981.6 832.7 L980.1 831.7 L978.7 830.7 L977.4 829.7 L976.4 828.7 L975.5 827.7 L974.6 826.7 L973.9 825.7 L973.2 824.7 L972.5 823.7 L971.9 822.7 L971.4 821.7 L970.9 820.7 L970.4 819.7 L969.9 818.7 L969.4 817.7 L968.9 816.7 L968.4 815.7 L967.9 814.7 L967.3 813.7 L966.8 812.7 L966.2 811.7 L965.6 810.7 L965.1 809.7 L964.5 808.7 L964 807.7 L963.5 806.7 L963 805.7 L962.5 804.7 L962.1 803.7 L961.6 802.7 L961.2 801.7 L960.7 800.7 L960.3 799.7 L959.9 798.7 L959.5 797.7 L959.1 796.7 L958.8 795.7 L958.4 794.7 L958.1 793.7 L957.7 792.7 L957.4 791.7 L957 790.7 L956.7 789.7 L956.3 788.7 L955.9 787.7 L955.6 786.7 L955.4 785.7 L955.2 784.7 L955.1 783.7 L955 782.7 L954.9 781.7 L954.7 780.7 L954.5 779.7 L954.3 778.7 L954.1 777.7 L953.9 776.7 L953.7 775.7 L953.5 774.7 L953.3 773.7 L953.1 772.7 L952.9 771.7 L952.7 770.7 L952.6 769.7 L952.5 768.7 L952.3 767.7 L952.2 766.7 L952 765.7 L951.9 764.7 L951.7 763.7 L951.6 762.7 L951.4 761.7 L951.3 760.7 L951.1 759.7 L950.9 758.7 L950.7 757.7 L950.6 756.7 L950.4 755.7 L950.3 754.7 L950.1 753.7 L950 752.7 L949.8 751.7 L949.7 750.7 L949.6 749.7 L949.5 748.7 L949.4 747.7 L949.3 746.7 L949.2 745.7 L949.2 744.7 L949.1 743.7 L949 742.7 L948.9 741.7 L948.9 740.7 L948.8 739.7 L948.8 738.7 L948.7 737.7 L948.7 736.7 L948.7 735.7 L948.8 734.7 L948.8 733.7 L948.9 732.7 L949 731.7 L949 730.7 L949.1 729.7 L949.1 728.7 L949.2 727.7 L949.2 726.7 L949.2 725.7 L949.2 724.7 L949.2 723.7 L949.2 722.7 L949.1 721.7 L949.1 720.7 L949 719.7 L949 718.7 L948.9 717.7 L948.9 716.7 L948.8 715.7 L948.7 714.7 L948.7 713.7 L948.6 712.7 L948.5 711.7 L948.5 710.7 L948.4 709.7 L948.3 708.7 L948.3 707.7 L948.2 706.7 L948.1 705.7 L948 704.7 L947.9 703.7 L947.9 702.7 L947.8 701.7 L947.7 700.7 L947.7 699.7 L947.6 698.7 L947.6 697.7 L947.6 696.7 L947.5 695.7 L947.5 694.7 L947.4 693.7 L947.4 692.7 L947.4 691.7 L947.4 690.7 L947.4 689.7 L947.4 688.7 L947.4 687.7 L947.4 686.7 L947.4 685.7 L947.4 684.7 L947.4 683.7 L947.4 682.7 L947.4 681.7 L947.4 680.7 L947.4 679.7 L947.4 678.7 L947.4 677.7 L947.4 676.7 L947.5 675.7 L947.5 674.7 L947.5 673.7 L947.5 672.7 L947.5 671.7 L947.5 670.7 L947.5 669.7 L947.5 668.7 L947.5 667.7 L947.5 666.7 L947.5 665.7 L947.5 664.7 L947.5 663.7 L947.5 662.7 L947.5 661.7 L947.5 660.7 L947.5 659.7 L947.5 658.7 L947.5 657.7 L947.5 656.7 L947.5 655.7 L947.5 654.7 L947.5 653.7 L947.5 652.7 L947.5 651.7 L947.5 650.7 L947.5 649.7 L947.5 648.7 L947.5 647.7 L947.5 646.7 L947.5 645.7 L947.5 644.7 L947.5 643.7 L947.5 642.7 L947.5 641.7 L947.5 640.7 L947.5 639.7 L947.5 638.7 L947.5 637.7 L947.5 636.7 L947.5 635.7 L947.5 634.7 L947.5 633.7 L947.5 632.7 L947.5 631.7 L947.5 630.7 L947.5 629.7 L947.5 628.7 L947.5 627.7 L947.5 626.7 L947.5 625.7 L947.5 624.7 L947.5 623.7 L947.5 622.7 L947.5 621.7 L947.5 620.7 L947.5 619.7 L947.5 618.7 L947.5 617.7 L947.5 616.7 L947.5 615.7 L947.5 614.7 L947.5 613.7 L947.5 612.7 L947.5 611.7 L947.5 610.7 L947.5 609.7 L947.5 608.7 L947.5 607.7 L947.5 606.7 L947.5 605.7 L947.5 604.7 L947.5 603.7 L947.5 602.7 L947.5 601.7 L947.5 600.7 L947.5 599.7 L947.5 598.7 L947.5 597.7 L947.5 596.7 L947.5 595.7 L947.5 594.7 L947.5 593.7 L947.5 592.7 L947.4 591.7 L947.4 590.7 L947.4 589.7 L947.4 588.7 L947.4 587.7 Z" fill="#632859" stroke="#262626" stroke-width="1.8" stroke-linejoin="miter" stroke-miterlimit="4"/>
<path d="M1113.3 717.5 L1113.3 718.5 L1113.2 719.5 L1113.2 720.5 L1113.1 721.5 L1113.1 722.5 L1113 723.5 L1113 724.5 L1113 725.5 L1112.9 726.5 L1112.9 727.5 L1112.8 728.5 L1112.8 729.5 L1112.8 730.5 L1112.8 731.5 L1112.8 732.5 L1112.8 733.5 L1112.9 734.5 L1113 735.5 L1113 736.5 L1113.1 737.5 L1113.1 738.5 L1113.2 739.5 L1113.2 740.5 L1113.3 741.5 L1113.4 742.5 L1113.4 743.5 L1113.4 744.5 L1113.4 745.5 L1113.4 746.5 L1113.4 747.5 L1113.3 748.5 L1113.3 749.5 L1113.3 750.5 L1113.2 751.5 L1113.2 752.5 L1113.1 753.5 L1113.1 754.5 L1113.1 755.5 L1113 756.5 L1113 757.5 L1112.9 758.5 L1112.9 759.5 L1112.8 760.5 L1112.8 761.5 L1112.8 762.5 L1112.8 763.5 L1112.8 764.5 L1112.7 765.5 L1112.7 766.5 L1112.7 767.5 L1112.7 768.5 L1112.7 769.5 L1112.7 770.5 L1112.7 771.5 L1112.7 772.5 L1112.7 773.5 L1112.7 774.5 L1112.7 775.5 L1112.7 776.5 L1112.7 777.5 L1112.7 778.5 L1112.7 779.5 L1112.7 780.5 L1112.8 781.5 L1112.7 782.5 L1112.7 783.5 L1112.7 784.5 L1112.7 785.5 L1112.7 786.5 L1112.7 787.5 L1112.7 788.5 L1112.7 789.5 L1112.6 790.5 L1112.6 791.5 L1112.6 792.5 L1112.6 793.5 L1112.5 794.5 L1112.5 795.5 L1112.5 796.5 L1112.4 797.5 L1112.4 798.5 L1112.4 799.5 L1112.3 800.5 L1112.3 801.5 L1112.2 802.5 L1112.2 803.5 L1112.1 804.5 L1112.1 805.5 L1112 806.5 L1111.9 807.5 L1111.8 808.5 L1111.6 809.5 L1111.5 810.5 L1111.2 811.5 L1111 812.5 L1110.7 813.5 L1110.4 814.5 L1110.1 815.5 L1109.8 816.5 L1109.5 817.5 L1109.3 818.5 L1109.1 819.5 L1108.8 820.5 L1108.5 821.5 L1108.2 822.5 L1107.9 823.5 L1107.5 824.5 L1107.2 825.5 L1106.8 826.5 L1106.4 827.5 L1106 828.5 L1105.5 829.5 L1105 830.5 L1104.5 831.5 L1104 832.5 L1103.5 833.5 L1103 834.5 L1102.5 835.5 L1102.1 836.5 L1101.8 837.5 L1101.5 838.5 L1101.2 839.5 L1101 840.5 L1100.8 841.5 L1100.6 842.5 L1100.4 843.5 L1100.2 844.5 L1099.9 845.5 L1099.6 846.5 L1099.3 847.5 L1099 848.5 L1098.6 849.5 L1098.3 850.5 L1097.9 851.5 L1097.6 852.5 L1097.2 853.5 L1096.9 854.5 L1096.6 855.5 L1096.2 856.5 L1095.9 857.5 L1095.5 858.5 L1095.1 859.5 L1094.7 860.5 L1094.4 861.5 L1094.1 862.5 L1093.8 863.5 L1093.3 864.5 L1092.6 865.5 L1091.8 866.5 L1090.9 867.5 L1090.1 868.5 L1089.2 869.5 L1088.4 870.5 L1087.5 871.5 L1086.7 872.5 L1086 873.5 L1085.3 874.5 L1084.7 875.5 L1084.2 876.5 L1083.6 877.5 L1083 878.5 L1082.3 879.5 L1081.5 880.5 L1080.6 881.5 L1079.7 882.5 L1078.6 883.5 L1077.4 884.5 L1076.1 885.5 L1074.5 886.5 L1073.1 887.5 L1071.8 888.5 L1070.5 889.5 L1069.1 890.5 L1067.8 891.5 L1066.4 892.5 L1065.1 893.5 L1063.8 894.5 L1062.4 895.5 L1061.1 896.5 L1059.7 897.5 L1058.4 898.5 L1057 899.5 L1055.7 900.5 L1054.3 901.5 L1053 902.5 L1051.8 903.5 L1050.6 904.5 L1049.6 905.5 L1048.6 906.5 L1047.9 907.5 L1047.2 908.5 L1047 909.5 L1047.5 910.5 L1048.4 911.5 L1049.2 912.5 L1050.1 913.5 L1051.2 914.5 L1052.8 915.5 L1054.8 916.5 L1057.3 917.5 L1060 918.5 L1063 919.5 L1066.7 920.5 L1070.7 921.5 L1074.8 922.5 L1078.5 923.5 L1081.9 924.5 L1085.2 925.5 L1088.4 926.5 L1091.4 927.5 L1094.2 928.5 L1096.9 929.5 L1099.4 930.5 L1101.8 931.5 L1103.8 932.5 L1105.7 933.5 L1107.4 934.5 L1109 935.5 L1110.3 936.5 L1111.1 937.5 L1111.8 938.5 L1112.3 939.5 L1112.4 940.4 L1114.8 940.4 L1114.9 939.5 L1115.4 938.5 L1116.1 937.5 L1116.9 936.5 L1118.2 935.5 L1119.8 934.5 L1121.5 933.5 L1123.4 932.5 L1125.4 931.5 L1127.8 930.5 L1130.3 929.5 L1133 928.5 L1135.8 927.5 L1138.8 926.5 L1142 925.5 L1145.3 924.5 L1148.7 923.5 L1152.4 922.5 L1156.5 921.5 L1160.5 920.5 L1164.2 919.5 L1167.2 918.5 L1169.9 917.5 L1172.4 916.5 L1174.4 915.5 L1176 914.5 L1177.1 913.5 L1178 912.5 L1178.8 911.5 L1179.7 910.5 L1180.2 909.5 L1180 908.5 L1179.3 907.5 L1178.6 906.5 L1177.6 905.5 L1176.6 904.5 L1175.4 903.5 L1174.2 902.5 L1172.9 901.5 L1171.5 900.5 L1170.2 899.5 L1168.8 898.5 L1167.5 897.5 L1166.1 896.5 L1164.8 895.5 L1163.4 894.5 L1162.1 893.5 L1160.8 892.5 L1159.4 891.5 L1158.1 890.5 L1156.7 889.5 L1155.4 888.5 L1154.1 887.5 L1152.7 886.5 L1151.1 885.5 L1149.8 884.5 L1148.6 883.5 L1147.5 882.5 L1146.6 881.5 L1145.7 880.5 L1144.9 879.5 L1144.2 878.5 L1143.6 877.5 L1143 876.5 L1142.5 875.5 L1141.9 874.5 L1141.2 873.5 L1140.5 872.5 L1139.7 871.5 L1138.8 870.5 L1138 869.5 L1137.1 868.5 L1136.3 867.5 L1135.4 866.5 L1134.6 865.5 L1133.9 864.5 L1133.4 863.5 L1133.1 862.5 L1132.8 861.5 L1132.5 860.5 L1132.1 859.5 L1131.7 858.5 L1131.3 857.5 L1131 856.5 L1130.6 855.5 L1130.3 854.5 L1130 853.5 L1129.6 852.5 L1129.3 851.5 L1128.9 850.5 L1128.6 849.5 L1128.2 848.5 L1127.9 847.5 L1127.6 846.5 L1127.3 845.5 L1127 844.5 L1126.8 843.5 L1126.6 842.5 L1126.4 841.5 L1126.2 840.5 L1126 839.5 L1125.7 838.5 L1125.4 837.5 L1125.1 836.5 L1124.7 835.5 L1124.2 834.5 L1123.7 833.5 L1123.2 832.5 L1122.7 831.5 L1122.2 830.5 L1121.7 829.5 L1121.2 828.5 L1120.8 827.5 L1120.4 826.5 L1120 825.5 L1119.7 824.5 L1119.3 823.5 L1119 822.5 L1118.7 821.5 L1118.4 820.5 L1118.1 819.5 L1117.9 818.5 L1117.7 817.5 L1117.4 816.5 L1117.1 815.5 L1116.8 814.5 L1116.5 813.5 L1116.2 812.5 L1116 811.5 L1115.7 810.5 L1115.6 809.5 L1115.4 808.5 L1115.3 807.5 L1115.2 806.5 L1115.1 805.5 L1115.1 804.5 L1115 803.5 L1115 802.5 L1114.9 801.5 L1114.9 800.5 L1114.8 799.5 L1114.8 798.5 L1114.8 797.5 L1114.7 796.5 L1114.7 795.5 L1114.7 794.5 L1114.6 793.5 L1114.6 792.5 L1114.6 791.5 L1114.6 790.5 L1114.5 789.5 L1114.5 788.5 L1114.5 787.5 L1114.5 786.5 L1114.5 785.5 L1114.5 784.5 L1114.5 783.5 L1114.5 782.5 L1114.4 781.5 L1114.5 780.5 L1114.5 779.5 L1114.5 778.5 L1114.5 777.5 L1114.5 776.5 L1114.5 775.5 L1114.5 774.5 L1114.5 773.5 L1114.5 772.5 L1114.5 771.5 L1114.5 770.5 L1114.5 769.5 L1114.5 768.5 L1114.5 767.5 L1114.5 766.5 L1114.5 765.5 L1114.4 764.5 L1114.4 763.5 L1114.4 762.5 L1114.4 761.5 L1114.4 760.5 L1114.3 759.5 L1114.3 758.5 L1114.2 757.5 L1114.2 756.5 L1114.1 755.5 L1114.1 754.5 L1114.1 753.5 L1114 752.5 L1114 751.5 L1113.9 750.5 L1113.9 749.5 L1113.9 748.5 L1113.8 747.5 L1113.8 746.5 L1113.8 745.5 L1113.8 744.5 L1113.8 743.5 L1113.8 742.5 L1113.9 741.5 L1114 740.5 L1114 739.5 L1114.1 738.5 L1114.1 737.5 L1114.2 736.5 L1114.2 735.5 L1114.3 734.5 L1114.4 733.5 L1114.4 732.5 L1114.4 731.5 L1114.4 730.5 L1114.4 729.5 L1114.4 728.5 L1114.3 727.5 L1114.3 726.5 L1114.2 725.5 L1114.2 724.5 L1114.2 723.5 L1114.1 722.5 L1114.1 721.5 L1114 720.5 L1114 719.5 L1113.9 718.5 L1113.9 717.5 Z" fill="#d67c63" stroke="#262626" stroke-width="1.8" stroke-linejoin="miter" stroke-miterlimit="4"/>
<line x1="780.5" y1="803.9" x2="780.5" y2="929.2" stroke="#262626" stroke-width="2.9" stroke-linecap="round"/>
<line x1="780.5" y1="873" x2="780.5" y2="917.5" stroke="#262626" stroke-width="8.5" stroke-linecap="round"/>
<rect x="776.9" y="900" width="7.2" height="2.0" fill="#f4f4f4"/>
<line x1="947.1" y1="780.1" x2="947.1" y2="928.2" stroke="#262626" stroke-width="2.9" stroke-linecap="round"/>
<line x1="947.1" y1="839.6" x2="947.1" y2="875.7" stroke="#262626" stroke-width="8.5" stroke-linecap="round"/>
<rect x="943.5" y="860" width="7.2" height="2.0" fill="#f4f4f4"/>
<line x1="1113.6" y1="815.6" x2="1113.6" y2="929.4" stroke="#262626" stroke-width="2.9" stroke-linecap="round"/>
<line x1="1113.6" y1="873.5" x2="1113.6" y2="912.2" stroke="#262626" stroke-width="8.5" stroke-linecap="round"/>
<rect x="1110" y="893.8" width="7.2" height="2.0" fill="#f4f4f4"/>
</g>
<g stroke="#262626" stroke-width="1.8" fill="none">
</g>
<rect x="99" y="29.1" width="500" height="401.6" fill="none" stroke="#262626" stroke-width="1.8" stroke-linejoin="miter" stroke-linecap="square"/>
<rect x="697.8" y="29.1" width="499.2" height="401.6" fill="none" stroke="#262626" stroke-width="1.8" stroke-linejoin="miter" stroke-linecap="square"/>
<rect x="99" y="551.1" width="500" height="401.4" fill="none" stroke="#262626" stroke-width="1.8" stroke-linejoin="miter" stroke-linecap="square"/>
<rect x="697.8" y="551.1" width="499.2" height="401.4" fill="none" stroke="#262626" stroke-width="1.8" stroke-linejoin="miter" stroke-linecap="square"/>
<g stroke="#262626" stroke-width="1.8">
<line x1="90.5" y1="430.7" x2="99" y2="430.7"/>
<line x1="90.5" y1="346.1" x2="99" y2="346.1"/>
<line x1="90.5" y1="261.5" x2="99" y2="261.5"/>
<line x1="90.5" y1="176.8" x2="99" y2="176.8"/>
<line x1="90.5" y1="92.2" x2="99" y2="92.2"/>
<text class="tl" transform="translate(85.4 439.7) scale(0.99 1.03)" text-anchor="end">0</text>
<text class="tl" transform="translate(85.4 355.1) scale(0.99 1.03)" text-anchor="end">2000</text>
<text class="tl" transform="translate(85.4 270.5) scale(0.99 1.03)" text-anchor="end">4000</text>
<text class="tl" transform="translate(85.4 185.8) scale(0.99 1.03)" text-anchor="end">6000</text>
<text class="tl" transform="translate(85.4 101.2) scale(0.99 1.03)" text-anchor="end">8000</text>
<line x1="689.3" y1="395.7" x2="697.8" y2="395.7"/>
<line x1="689.3" y1="312.6" x2="697.8" y2="312.6"/>
<line x1="689.3" y1="229.6" x2="697.8" y2="229.6"/>
<line x1="689.3" y1="146.5" x2="697.8" y2="146.5"/>
<line x1="689.3" y1="63.5" x2="697.8" y2="63.5"/>
<text class="tl" transform="translate(684.1 404.7) scale(0.99 1.03)" text-anchor="end">0</text>
<text class="tl" transform="translate(684.1 321.6) scale(0.99 1.03)" text-anchor="end">2</text>
<text class="tl" transform="translate(684.1 238.6) scale(0.99 1.03)" text-anchor="end">4</text>
<text class="tl" transform="translate(684.1 155.5) scale(0.99 1.03)" text-anchor="end">6</text>
<text class="tl" transform="translate(684.1 72.5) scale(0.99 1.03)" text-anchor="end">8</text>
<line x1="90.5" y1="952.5" x2="99" y2="952.5"/>
<line x1="90.5" y1="872.2" x2="99" y2="872.2"/>
<line x1="90.5" y1="791.9" x2="99" y2="791.9"/>
<line x1="90.5" y1="711.7" x2="99" y2="711.7"/>
<line x1="90.5" y1="631.4" x2="99" y2="631.4"/>
<line x1="90.5" y1="551.1" x2="99" y2="551.1"/>
<text class="tl" transform="translate(85.4 961.5) scale(0.99 1.03)" text-anchor="end">0</text>
<text class="tl" transform="translate(85.4 881.2) scale(0.99 1.03)" text-anchor="end">2</text>
<text class="tl" transform="translate(85.4 800.9) scale(0.99 1.03)" text-anchor="end">4</text>
<text class="tl" transform="translate(85.4 720.7) scale(0.99 1.03)" text-anchor="end">6</text>
<text class="tl" transform="translate(85.4 640.4) scale(0.99 1.03)" text-anchor="end">8</text>
<text class="tl" transform="translate(85.4 560.1) scale(0.99 1.03)" text-anchor="end">10</text>
<line x1="689.3" y1="924" x2="697.8" y2="924"/>
<line x1="689.3" y1="866.7" x2="697.8" y2="866.7"/>
<line x1="689.3" y1="809.3" x2="697.8" y2="809.3"/>
<line x1="689.3" y1="752" x2="697.8" y2="752"/>
<line x1="689.3" y1="694.7" x2="697.8" y2="694.7"/>
<line x1="689.3" y1="637.4" x2="697.8" y2="637.4"/>
<line x1="689.3" y1="580" x2="697.8" y2="580"/>
<text class="tl" transform="translate(684.1 933) scale(0.99 1.03)" text-anchor="end">20</text>
<text class="tl" transform="translate(684.1 875.7) scale(0.99 1.03)" text-anchor="end">30</text>
<text class="tl" transform="translate(684.1 818.3) scale(0.99 1.03)" text-anchor="end">40</text>
<text class="tl" transform="translate(684.1 761) scale(0.99 1.03)" text-anchor="end">50</text>
<text class="tl" transform="translate(684.1 703.7) scale(0.99 1.03)" text-anchor="end">60</text>
<text class="tl" transform="translate(684.1 646.4) scale(0.99 1.03)" text-anchor="end">70</text>
<text class="tl" transform="translate(684.1 589) scale(0.99 1.03)" text-anchor="end">80</text>
<line x1="182.3" y1="430.7" x2="182.3" y2="439.2"/>
<line x1="349" y1="430.7" x2="349" y2="439.2"/>
<line x1="515.7" y1="430.7" x2="515.7" y2="439.2"/>
<text class="tl" transform="translate(182.3 462.8) scale(0.99 1.03)" text-anchor="middle">Unknown</text>
<text class="tl" transform="translate(349 462.8) scale(0.99 1.03)" text-anchor="middle">Men</text>
<text class="tl" transform="translate(515.7 462.8) scale(0.99 1.03)" text-anchor="middle">Women</text>
<line x1="781" y1="430.7" x2="781" y2="439.2"/>
<line x1="947.4" y1="430.7" x2="947.4" y2="439.2"/>
<line x1="1113.8" y1="430.7" x2="1113.8" y2="439.2"/>
<text class="tl" transform="translate(781 462.8) scale(0.99 1.03)" text-anchor="middle">Unknown</text>
<text class="tl" transform="translate(947.4 462.8) scale(0.99 1.03)" text-anchor="middle">Men</text>
<text class="tl" transform="translate(1113.8 462.8) scale(0.99 1.03)" text-anchor="middle">Women</text>
<line x1="182.3" y1="952.5" x2="182.3" y2="961"/>
<line x1="349" y1="952.5" x2="349" y2="961"/>
<line x1="515.7" y1="952.5" x2="515.7" y2="961"/>
<text class="tl" transform="translate(182.3 984.6) scale(0.99 1.03)" text-anchor="middle">Unknown</text>
<text class="tl" transform="translate(349 984.6) scale(0.99 1.03)" text-anchor="middle">Men</text>
<text class="tl" transform="translate(515.7 984.6) scale(0.99 1.03)" text-anchor="middle">Women</text>
<line x1="781" y1="952.5" x2="781" y2="961"/>
<line x1="947.4" y1="952.5" x2="947.4" y2="961"/>
<line x1="1113.8" y1="952.5" x2="1113.8" y2="961"/>
<text class="tl" transform="translate(781 984.6) scale(0.99 1.03)" text-anchor="middle">Unknown</text>
<text class="tl" transform="translate(947.4 984.6) scale(0.99 1.03)" text-anchor="middle">Men</text>
<text class="tl" transform="translate(1113.8 984.6) scale(0.99 1.03)" text-anchor="middle">Women</text>
</g>
<text class="tt" transform="translate(349 20.5) scale(0.98 1.04)" text-anchor="middle">A</text>
<text class="tt" transform="translate(947.4 20.5) scale(0.98 1.04)" text-anchor="middle">B</text>
<text class="tt" transform="translate(349 542.5) scale(0.98 1.04)" text-anchor="middle">C</text>
<text class="tt" transform="translate(947.4 542.5) scale(0.98 1.04)" text-anchor="middle">D</text>
<text class="al" transform="translate(20.3 229.9) rotate(-90)" text-anchor="middle">Total images</text>
<text class="al" transform="translate(658 229.9) rotate(-90)" text-anchor="middle">Size (MB)</text>
<text class="al" transform="translate(46.7 751.8) rotate(-90)" text-anchor="middle"># of images in profile</text>
<text class="al" transform="translate(644.9 751.8) rotate(-90)" text-anchor="middle">Age</text>
</svg></body></html>
